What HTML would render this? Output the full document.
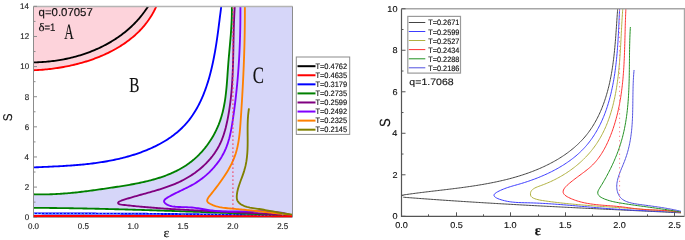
<!DOCTYPE html><html><head><meta charset="utf-8"><style>html,body{margin:0;padding:0;background:#fff;width:685px;height:240px;overflow:hidden}svg{display:block;will-change:transform}</style></head><body>
<svg width="685" height="240" viewBox="0 0 685 240" font-family="Liberation Sans, sans-serif" text-rendering="geometricPrecision" style="font-kerning:none">
<defs><clipPath id="cl"><rect x="33.50" y="6.50" width="259.00" height="210.70"/></clipPath><clipPath id="cr"><rect x="401.50" y="8.75" width="283.10" height="207.55"/></clipPath></defs>
<g clip-path="url(#cl)">
<path d="M231.92,6.57 L231.80,8.07 L231.69,9.57 L231.58,11.06 L231.47,12.56 L231.37,14.06 L231.28,15.56 L231.18,17.06 L231.09,18.56 L231.00,20.05 L230.92,21.55 L230.84,23.05 L230.76,24.55 L230.68,26.05 L230.60,27.55 L230.53,29.05 L230.46,30.55 L230.39,32.05 L230.32,33.55 L230.25,35.04 L230.18,36.55 L230.11,38.05 L230.04,39.55 L229.97,41.05 L229.90,42.55 L229.83,44.05 L229.76,45.55 L229.69,47.05 L229.62,48.56 L229.54,50.06 L229.46,51.56 L229.39,53.07 L229.31,54.57 L229.22,56.08 L229.14,57.58 L229.05,59.09 L228.96,60.59 L228.86,62.10 L228.76,63.61 L228.66,65.11 L228.56,66.62 L228.44,68.13 L228.33,69.64 L228.21,71.15 L228.09,72.66 L227.96,74.17 L227.82,75.69 L227.68,77.20 L227.53,78.71 L227.38,80.23 L227.22,81.74 L227.06,83.26 L226.89,84.78 L226.71,86.29 L226.52,87.81 L226.33,89.33 L226.13,90.85 L225.92,92.37 L225.70,93.89 L225.47,95.41 L225.24,96.93 L224.99,98.45 L224.74,99.97 L224.47,101.48 L224.19,102.99 L223.90,104.50 L223.59,106.01 L223.27,107.51 L222.94,109.00 L222.60,110.49 L222.24,111.98 L221.86,113.46 L221.47,114.93 L221.06,116.39 L220.64,117.85 L220.20,119.30 L219.74,120.74 L219.26,122.18 L218.76,123.60 L218.25,125.01 L217.71,126.41 L217.16,127.80 L216.58,129.19 L215.98,130.55 L215.36,131.91 L214.71,133.25 L214.05,134.58 L213.36,135.90 L212.64,137.20 L211.90,138.49 L211.14,139.76 L210.36,141.02 L209.55,142.26 L208.72,143.48 L207.87,144.69 L206.99,145.88 L206.09,147.05 L205.17,148.21 L204.22,149.34 L203.25,150.46 L202.26,151.56 L201.25,152.63 L200.22,153.69 L199.16,154.73 L198.09,155.74 L196.99,156.74 L195.87,157.71 L194.74,158.67 L193.58,159.60 L192.41,160.52 L191.22,161.41 L190.01,162.29 L188.79,163.15 L187.55,163.98 L186.30,164.80 L185.03,165.60 L183.75,166.38 L182.45,167.15 L181.15,167.90 L179.83,168.62 L178.50,169.34 L177.17,170.03 L175.82,170.71 L174.46,171.37 L173.10,172.01 L171.73,172.64 L170.35,173.26 L168.96,173.85 L167.57,174.43 L166.17,175.00 L164.77,175.55 L163.36,176.09 L161.94,176.61 L160.52,177.12 L159.09,177.61 L157.66,178.10 L156.22,178.56 L154.78,179.02 L153.33,179.46 L151.87,179.90 L150.42,180.31 L148.95,180.72 L147.49,181.12 L146.02,181.50 L144.54,181.88 L143.07,182.24 L141.59,182.60 L140.10,182.94 L138.61,183.28 L137.12,183.60 L135.63,183.92 L134.14,184.23 L132.64,184.52 L131.14,184.82 L129.64,185.10 L128.13,185.37 L126.63,185.64 L125.12,185.90 L123.62,186.16 L122.11,186.41 L120.60,186.65 L119.09,186.88 L117.58,187.12 L116.07,187.34 L114.56,187.56 L113.04,187.78 L111.53,187.99 L110.02,188.20 L108.51,188.40 L107.00,188.60 L105.50,188.80 L103.99,188.99 L102.48,189.18 L100.98,189.37 L99.48,189.56 L97.98,189.74 L96.48,189.93 L94.98,190.11 L93.49,190.29 L91.99,190.47 L90.50,190.65 L89.01,190.82 L87.52,190.99 L86.03,191.16 L84.55,191.33 L83.06,191.50 L81.57,191.66 L80.09,191.82 L78.60,191.97 L77.12,192.12 L75.63,192.27 L74.15,192.42 L72.66,192.56 L71.18,192.69 L69.69,192.83 L68.21,192.96 L66.72,193.08 L65.23,193.20 L63.74,193.32 L62.25,193.43 L60.76,193.53 L59.26,193.63 L57.77,193.73 L56.27,193.82 L54.77,193.90 L53.27,193.98 L51.77,194.05 L50.26,194.12 L48.75,194.18 L47.24,194.24 L45.73,194.28 L44.21,194.32 L42.69,194.36 L41.17,194.39 L39.64,194.41 L38.11,194.42 L36.58,194.43 L35.04,194.42 L33.50,194.42 L33.50,207.70 L73.00,208.50 L113.00,209.20 L173.00,210.60 L233.00,213.50 L292.00,215.20 L292.50,215.20 L292.50,4.50 Z" fill="#d6d6f9"/>
<path d="M33.50,4.50 L156.16,6.67 L155.51,8.10 L154.83,9.50 L154.12,10.89 L153.40,12.26 L152.64,13.61 L151.87,14.93 L151.07,16.24 L150.25,17.53 L149.41,18.80 L148.55,20.06 L147.67,21.29 L146.77,22.51 L145.84,23.70 L144.90,24.88 L143.93,26.04 L142.95,27.18 L141.95,28.31 L140.93,29.42 L139.89,30.50 L138.84,31.58 L137.76,32.63 L136.67,33.67 L135.57,34.69 L134.44,35.69 L133.30,36.68 L132.15,37.64 L130.98,38.60 L129.80,39.53 L128.60,40.45 L127.38,41.36 L126.16,42.25 L124.92,43.12 L123.67,43.97 L122.40,44.81 L121.12,45.64 L119.83,46.45 L118.53,47.24 L117.22,48.02 L115.90,48.79 L114.56,49.53 L113.22,50.27 L111.86,50.99 L110.50,51.69 L109.12,52.38 L107.74,53.05 L106.35,53.71 L104.95,54.36 L103.54,54.99 L102.12,55.61 L100.70,56.21 L99.27,56.80 L97.83,57.38 L96.38,57.94 L94.93,58.48 L93.47,59.02 L92.01,59.54 L90.54,60.05 L89.07,60.54 L87.59,61.02 L86.11,61.49 L84.62,61.94 L83.13,62.38 L81.63,62.81 L80.13,63.22 L78.63,63.63 L77.13,64.02 L75.62,64.39 L74.11,64.76 L72.60,65.11 L71.09,65.45 L69.58,65.78 L68.07,66.10 L66.55,66.40 L65.04,66.69 L63.53,66.97 L62.01,67.24 L60.50,67.50 L58.99,67.74 L57.48,67.98 L55.97,68.20 L54.47,68.41 L52.96,68.61 L51.46,68.80 L49.96,68.98 L48.47,69.15 L46.98,69.31 L45.49,69.45 L44.01,69.59 L42.53,69.72 L41.05,69.83 L39.59,69.94 L38.12,70.03 L36.66,70.12 L35.21,70.19 L33.77,70.26 Z" fill="#fdd3db"/>
<path d="M33.50,216.10 L35.01,216.10 L36.52,216.10 L38.04,216.10 L39.55,216.10 L41.06,216.10 L42.57,216.10 L44.08,216.10 L45.59,216.10 L47.11,216.10 L48.62,216.10 L50.13,216.10 L51.64,216.10 L53.15,216.10 L54.66,216.10 L56.18,216.10 L57.69,216.10 L59.20,216.10 L60.71,216.10 L62.22,216.10 L63.73,216.10 L65.25,216.10 L66.76,216.11 L68.27,216.11 L69.78,216.11 L71.29,216.11 L72.80,216.11 L74.32,216.11 L75.83,216.11 L77.34,216.11 L78.85,216.11 L80.36,216.11 L81.87,216.11 L83.39,216.12 L84.90,216.12 L86.41,216.12 L87.92,216.12 L89.43,216.12 L90.94,216.12 L92.46,216.12 L93.97,216.12 L95.48,216.13 L96.99,216.13 L98.50,216.13 L100.01,216.13 L101.53,216.13 L103.04,216.13 L104.55,216.13 L106.06,216.14 L107.57,216.14 L109.08,216.14 L110.60,216.14 L112.11,216.14 L113.62,216.14 L115.13,216.15 L116.64,216.15 L118.16,216.15 L119.67,216.15 L121.18,216.15 L122.69,216.16 L124.20,216.16 L125.71,216.16 L127.23,216.16 L128.74,216.17 L130.25,216.17 L131.76,216.17 L133.27,216.17 L134.78,216.17 L136.30,216.18 L137.81,216.18 L139.32,216.18 L140.83,216.18 L142.34,216.19 L143.85,216.19 L145.37,216.19 L146.88,216.19 L148.39,216.20 L149.90,216.20 L151.41,216.20 L152.92,216.21 L154.44,216.21 L155.95,216.21 L157.46,216.21 L158.97,216.22 L160.48,216.22 L161.99,216.22 L163.51,216.23 L165.02,216.23 L166.53,216.23 L168.04,216.23 L169.55,216.24 L171.06,216.24 L172.58,216.24 L174.09,216.25 L175.60,216.25 L177.11,216.25 L178.62,216.26 L180.13,216.26 L181.65,216.26 L183.16,216.27 L184.67,216.27 L186.18,216.27 L187.69,216.28 L189.20,216.28 L190.72,216.29 L192.23,216.29 L193.74,216.29 L195.25,216.30 L196.76,216.30 L198.28,216.30 L199.79,216.31 L201.30,216.31 L202.81,216.32 L204.32,216.32 L205.83,216.32 L207.35,216.33 L208.86,216.33 L210.37,216.34 L211.88,216.34 L213.39,216.34 L214.90,216.35 L216.42,216.35 L217.93,216.36 L219.44,216.36 L220.95,216.36 L222.46,216.37 L223.97,216.37 L225.49,216.38 L227.00,216.38 L228.51,216.39 L230.02,216.39 L231.53,216.40 L233.04,216.40 L234.56,216.40 L236.07,216.41 L237.58,216.41 L239.09,216.42 L240.60,216.42 L242.11,216.43 L243.63,216.43 L245.14,216.44 L246.65,216.44 L248.16,216.45 L249.67,216.45 L251.18,216.46 L252.70,216.46 L254.21,216.47 L255.72,216.47 L257.23,216.48 L258.74,216.48 L260.25,216.49 L261.77,216.49 L263.28,216.50 L264.79,216.50 L266.30,216.51 L267.81,216.51 L269.32,216.52 L270.84,216.52 L272.35,216.53 L273.86,216.53 L275.37,216.54 L276.88,216.54 L278.39,216.55 L279.91,216.56 L281.42,216.56 L282.93,216.57 L284.44,216.57 L285.95,216.58 L287.46,216.58 L288.98,216.59 L290.49,216.59 L292.00,216.60" fill="none" stroke="#ff0000" stroke-width="2.20" stroke-linejoin="round" />
<path d="M33.50,213.40 L35.01,213.41 L36.52,213.41 L38.04,213.42 L39.55,213.42 L41.06,213.42 L42.57,213.43 L44.08,213.43 L45.59,213.44 L47.11,213.44 L48.62,213.44 L50.13,213.45 L51.64,213.45 L53.15,213.45 L54.67,213.46 L56.18,213.46 L57.69,213.47 L59.20,213.47 L60.71,213.47 L62.22,213.48 L63.74,213.48 L65.25,213.49 L66.76,213.49 L68.27,213.49 L69.78,213.50 L71.30,213.50 L72.81,213.51 L74.32,213.51 L75.83,213.51 L77.34,213.52 L78.85,213.52 L80.37,213.53 L81.88,213.53 L83.39,213.53 L84.90,213.54 L86.41,213.54 L87.93,213.55 L89.44,213.55 L90.95,213.56 L92.46,213.56 L93.97,213.57 L95.49,213.57 L97.00,213.58 L98.51,213.58 L100.02,213.59 L101.53,213.59 L103.04,213.60 L104.56,213.60 L106.07,213.61 L107.58,213.62 L109.09,213.62 L110.60,213.63 L112.12,213.63 L113.63,213.64 L115.14,213.65 L116.65,213.65 L118.16,213.66 L119.67,213.67 L121.19,213.68 L122.70,213.68 L124.21,213.69 L125.72,213.70 L127.23,213.71 L128.75,213.71 L130.26,213.72 L131.77,213.73 L133.28,213.74 L134.79,213.75 L136.31,213.75 L137.82,213.76 L139.33,213.77 L140.84,213.78 L142.35,213.79 L143.86,213.80 L145.38,213.81 L146.89,213.82 L148.40,213.83 L149.91,213.84 L151.42,213.85 L152.94,213.86 L154.45,213.88 L155.96,213.89 L157.47,213.90 L158.98,213.91 L160.49,213.92 L162.01,213.94 L163.52,213.95 L165.03,213.96 L166.54,213.97 L168.05,213.99 L169.56,214.00 L171.08,214.02 L172.59,214.03 L174.10,214.04 L175.61,214.06 L177.12,214.07 L178.64,214.09 L180.15,214.11 L181.66,214.12 L183.17,214.14 L184.68,214.15 L186.19,214.17 L187.71,214.19 L189.22,214.21 L190.73,214.22 L192.24,214.24 L193.75,214.26 L195.26,214.28 L196.78,214.30 L198.29,214.32 L199.80,214.34 L201.31,214.36 L202.82,214.38 L204.33,214.40 L205.85,214.42 L207.36,214.44 L208.87,214.46 L210.38,214.48 L211.89,214.51 L213.40,214.53 L214.92,214.55 L216.43,214.58 L217.94,214.60 L219.45,214.63 L220.96,214.65 L222.47,214.68 L223.99,214.70 L225.50,214.73 L227.01,214.75 L228.52,214.78 L230.03,214.81 L231.54,214.83 L233.06,214.86 L234.57,214.89 L236.08,214.92 L237.59,214.95 L239.10,214.98 L240.61,215.01 L242.12,215.04 L243.64,215.07 L245.15,215.10 L246.66,215.13 L248.17,215.16 L249.68,215.20 L251.19,215.23 L252.70,215.26 L254.22,215.30 L255.73,215.33 L257.24,215.37 L258.75,215.40 L260.26,215.44 L261.77,215.47 L263.28,215.51 L264.80,215.55 L266.31,215.59 L267.82,215.63 L269.33,215.66 L270.84,215.70 L272.35,215.74 L273.86,215.78 L275.38,215.82 L276.89,215.87 L278.40,215.91 L279.91,215.95 L281.42,215.99 L282.93,216.04 L284.44,216.08 L285.95,216.12 L287.47,216.17 L288.98,216.21 L290.49,216.26 L292.00,216.31" fill="none" stroke="#0000ff" stroke-width="1.90" stroke-linejoin="round" />
<path d="M33.50,213.40 L35.01,213.41 L36.52,213.41 L38.04,213.42 L39.55,213.42 L41.06,213.42 L42.57,213.43 L44.08,213.43 L45.59,213.44 L47.11,213.44 L48.62,213.44 L50.13,213.45 L51.64,213.45 L53.15,213.45 L54.67,213.46 L56.18,213.46 L57.69,213.47 L59.20,213.47 L60.71,213.47 L62.22,213.48 L63.74,213.48 L65.25,213.49 L66.76,213.49 L68.27,213.49 L69.78,213.50 L71.30,213.50 L72.81,213.51 L74.32,213.51 L75.83,213.51 L77.34,213.52 L78.85,213.52 L80.37,213.53 L81.88,213.53 L83.39,213.53 L84.90,213.54 L86.41,213.54 L87.93,213.55 L89.44,213.55 L90.95,213.56 L92.46,213.56 L93.97,213.57 L95.49,213.57 L97.00,213.58 L98.51,213.58 L100.02,213.59 L101.53,213.59 L103.04,213.60 L104.56,213.60 L106.07,213.61 L107.58,213.62 L109.09,213.62 L110.60,213.63 L112.12,213.63 L113.63,213.64 L115.14,213.65 L116.65,213.65 L118.16,213.66 L119.67,213.67 L121.19,213.68 L122.70,213.68 L124.21,213.69 L125.72,213.70 L127.23,213.71 L128.75,213.71 L130.26,213.72 L131.77,213.73 L133.28,213.74 L134.79,213.75 L136.31,213.75 L137.82,213.76 L139.33,213.77 L140.84,213.78 L142.35,213.79 L143.86,213.80 L145.38,213.81 L146.89,213.82 L148.40,213.83 L149.91,213.84 L151.42,213.85 L152.94,213.86 L154.45,213.88 L155.96,213.89 L157.47,213.90 L158.98,213.91 L160.49,213.92 L162.01,213.94 L163.52,213.95 L165.03,213.96 L166.54,213.97 L168.05,213.99 L169.56,214.00 L171.08,214.02 L172.59,214.03 L174.10,214.04 L175.61,214.06 L177.12,214.07 L178.64,214.09 L180.15,214.11 L181.66,214.12 L183.17,214.14 L184.68,214.15 L186.19,214.17 L187.71,214.19 L189.22,214.21 L190.73,214.22 L192.24,214.24 L193.75,214.26 L195.26,214.28 L196.78,214.30 L198.29,214.32 L199.80,214.34 L201.31,214.36 L202.82,214.38 L204.33,214.40 L205.85,214.42 L207.36,214.44 L208.87,214.46 L210.38,214.48 L211.89,214.51 L213.40,214.53 L214.92,214.55 L216.43,214.58 L217.94,214.60 L219.45,214.63 L220.96,214.65 L222.47,214.68 L223.99,214.70 L225.50,214.73 L227.01,214.75 L228.52,214.78 L230.03,214.81 L231.54,214.83 L233.06,214.86 L234.57,214.89 L236.08,214.92 L237.59,214.95 L239.10,214.98 L240.61,215.01 L242.12,215.04 L243.64,215.07 L245.15,215.10 L246.66,215.13 L248.17,215.16 L249.68,215.20 L251.19,215.23 L252.70,215.26 L254.22,215.30 L255.73,215.33 L257.24,215.37 L258.75,215.40 L260.26,215.44 L261.77,215.47 L263.28,215.51 L264.80,215.55 L266.31,215.59 L267.82,215.63 L269.33,215.66 L270.84,215.70 L272.35,215.74 L273.86,215.78 L275.38,215.82 L276.89,215.87 L278.40,215.91 L279.91,215.95 L281.42,215.99 L282.93,216.04 L284.44,216.08 L285.95,216.12 L287.47,216.17 L288.98,216.21 L290.49,216.26 L292.00,216.31" fill="none" stroke="#7fd8ff" stroke-width="0.9" stroke-dasharray="1.3,2.3"/>
<path d="M33.53,62.37 L35.03,62.34 L36.54,62.31 L38.05,62.26 L39.56,62.19 L41.07,62.12 L42.59,62.03 L44.10,61.92 L45.61,61.81 L47.13,61.67 L48.65,61.53 L50.16,61.37 L51.68,61.20 L53.19,61.01 L54.71,60.81 L56.22,60.60 L57.73,60.37 L59.25,60.13 L60.76,59.88 L62.26,59.61 L63.77,59.32 L65.28,59.03 L66.78,58.72 L68.28,58.39 L69.77,58.05 L71.27,57.70 L72.76,57.33 L74.24,56.95 L75.72,56.55 L77.20,56.14 L78.68,55.71 L80.15,55.27 L81.61,54.82 L83.07,54.35 L84.52,53.86 L85.97,53.37 L87.42,52.85 L88.85,52.33 L90.29,51.78 L91.71,51.23 L93.13,50.66 L94.54,50.07 L95.94,49.47 L97.34,48.85 L98.73,48.22 L100.11,47.57 L101.49,46.91 L102.85,46.24 L104.21,45.55 L105.56,44.84 L106.90,44.12 L108.23,43.38 L109.55,42.63 L110.86,41.86 L112.16,41.08 L113.45,40.28 L114.73,39.47 L116.00,38.64 L117.26,37.79 L118.51,36.94 L119.75,36.06 L120.98,35.17 L122.19,34.26 L123.39,33.34 L124.58,32.40 L125.76,31.45 L126.93,30.48 L128.08,29.50 L129.22,28.50 L130.34,27.48 L131.45,26.45 L132.55,25.40 L133.64,24.33 L134.71,23.25 L135.76,22.16 L136.81,21.04 L137.83,19.92 L138.84,18.77 L139.84,17.61 L140.82,16.43 L141.78,15.24 L142.73,14.03 L143.66,12.80 L144.58,11.56 L145.47,10.30 L146.36,9.02 L147.22,7.73 L148.07,6.42" fill="none" stroke="#000000" stroke-width="1.85" stroke-linejoin="round" />
<path d="M33.77,70.26 L35.21,70.19 L36.66,70.12 L38.12,70.03 L39.59,69.94 L41.05,69.83 L42.53,69.72 L44.01,69.59 L45.49,69.45 L46.98,69.31 L48.47,69.15 L49.96,68.98 L51.46,68.80 L52.96,68.61 L54.47,68.41 L55.97,68.20 L57.48,67.98 L58.99,67.74 L60.50,67.50 L62.01,67.24 L63.53,66.97 L65.04,66.69 L66.55,66.40 L68.07,66.10 L69.58,65.78 L71.09,65.45 L72.60,65.11 L74.11,64.76 L75.62,64.39 L77.13,64.02 L78.63,63.63 L80.13,63.22 L81.63,62.81 L83.13,62.38 L84.62,61.94 L86.11,61.49 L87.59,61.02 L89.07,60.54 L90.54,60.05 L92.01,59.54 L93.47,59.02 L94.93,58.48 L96.38,57.94 L97.83,57.38 L99.27,56.80 L100.70,56.21 L102.12,55.61 L103.54,54.99 L104.95,54.36 L106.35,53.71 L107.74,53.05 L109.12,52.38 L110.50,51.69 L111.86,50.99 L113.22,50.27 L114.56,49.53 L115.90,48.79 L117.22,48.02 L118.53,47.24 L119.83,46.45 L121.12,45.64 L122.40,44.81 L123.67,43.97 L124.92,43.12 L126.16,42.25 L127.38,41.36 L128.60,40.45 L129.80,39.53 L130.98,38.60 L132.15,37.64 L133.30,36.68 L134.44,35.69 L135.57,34.69 L136.67,33.67 L137.76,32.63 L138.84,31.58 L139.89,30.50 L140.93,29.42 L141.95,28.31 L142.95,27.18 L143.93,26.04 L144.90,24.88 L145.84,23.70 L146.77,22.51 L147.67,21.29 L148.55,20.06 L149.41,18.80 L150.25,17.53 L151.07,16.24 L151.87,14.93 L152.64,13.61 L153.40,12.26 L154.12,10.89 L154.83,9.50 L155.51,8.10 L156.16,6.67" fill="none" stroke="#ff0000" stroke-width="1.85" stroke-linejoin="round" />
<path d="M33.58,167.42 L35.08,167.35 L36.57,167.28 L38.07,167.21 L39.57,167.15 L41.07,167.08 L42.57,167.01 L44.07,166.94 L45.57,166.88 L47.08,166.81 L48.58,166.74 L50.08,166.67 L51.59,166.60 L53.09,166.53 L54.60,166.45 L56.10,166.37 L57.61,166.30 L59.11,166.22 L60.62,166.13 L62.13,166.05 L63.63,165.96 L65.14,165.87 L66.65,165.77 L68.15,165.67 L69.66,165.57 L71.17,165.47 L72.67,165.36 L74.18,165.24 L75.68,165.12 L77.19,165.00 L78.70,164.87 L80.20,164.74 L81.71,164.60 L83.21,164.46 L84.71,164.30 L86.22,164.15 L87.72,163.99 L89.22,163.82 L90.72,163.64 L92.23,163.46 L93.73,163.27 L95.23,163.07 L96.72,162.87 L98.22,162.66 L99.72,162.44 L101.22,162.21 L102.71,161.98 L104.21,161.73 L105.70,161.48 L107.19,161.22 L108.68,160.95 L110.17,160.67 L111.66,160.38 L113.15,160.08 L114.63,159.77 L116.12,159.45 L117.60,159.12 L119.08,158.78 L120.56,158.43 L122.04,158.07 L123.52,157.69 L125.00,157.31 L126.47,156.91 L127.94,156.51 L129.41,156.09 L130.88,155.65 L132.35,155.21 L133.81,154.75 L135.28,154.28 L136.73,153.80 L138.19,153.31 L139.64,152.80 L141.08,152.28 L142.52,151.74 L143.96,151.19 L145.38,150.63 L146.81,150.06 L148.22,149.47 L149.63,148.86 L151.03,148.24 L152.42,147.61 L153.80,146.96 L155.17,146.30 L156.54,145.63 L157.89,144.93 L159.23,144.23 L160.57,143.51 L161.89,142.77 L163.20,142.02 L164.49,141.25 L165.78,140.46 L167.05,139.66 L168.31,138.85 L169.55,138.01 L170.78,137.17 L171.99,136.30 L173.19,135.42 L174.37,134.52 L175.54,133.60 L176.69,132.67 L177.83,131.72 L178.94,130.75 L180.04,129.77 L181.12,128.76 L182.18,127.74 L183.22,126.70 L184.24,125.65 L185.24,124.57 L186.22,123.48 L187.18,122.36 L188.12,121.23 L189.04,120.09 L189.94,118.92 L190.82,117.74 L191.68,116.54 L192.53,115.33 L193.35,114.10 L194.15,112.86 L194.94,111.60 L195.71,110.33 L196.46,109.04 L197.19,107.75 L197.91,106.43 L198.61,105.11 L199.29,103.77 L199.95,102.43 L200.60,101.07 L201.24,99.70 L201.85,98.32 L202.46,96.93 L203.05,95.54 L203.62,94.13 L204.18,92.71 L204.72,91.29 L205.25,89.86 L205.77,88.42 L206.27,86.98 L206.76,85.53 L207.24,84.07 L207.71,82.61 L208.16,81.14 L208.60,79.67 L209.03,78.19 L209.45,76.71 L209.85,75.23 L210.25,73.74 L210.63,72.25 L211.01,70.76 L211.37,69.27 L211.73,67.77 L212.07,66.28 L212.41,64.78 L212.73,63.29 L213.05,61.79 L213.36,60.29 L213.66,58.79 L213.96,57.29 L214.24,55.79 L214.52,54.29 L214.79,52.79 L215.06,51.29 L215.32,49.78 L215.57,48.28 L215.81,46.78 L216.05,45.28 L216.29,43.78 L216.52,42.28 L216.74,40.78 L216.96,39.28 L217.18,37.78 L217.39,36.28 L217.60,34.78 L217.81,33.29 L218.01,31.79 L218.21,30.30 L218.41,28.81 L218.60,27.32 L218.79,25.83 L218.98,24.34 L219.17,22.86 L219.36,21.37 L219.55,19.89 L219.73,18.41 L219.92,16.94 L220.11,15.46 L220.29,13.99 L220.48,12.52 L220.67,11.05 L220.86,9.59 L221.05,8.13 L221.24,6.67" fill="none" stroke="#0000ff" stroke-width="1.85" stroke-linejoin="round" />
<path d="M33.35,194.25 L34.94,194.30 L36.52,194.34 L38.09,194.37 L39.65,194.38 L41.21,194.39 L42.77,194.39 L44.31,194.39 L45.85,194.37 L47.39,194.34 L48.92,194.31 L50.44,194.27 L51.96,194.22 L53.48,194.16 L54.99,194.09 L56.49,194.02 L57.99,193.94 L59.49,193.85 L60.99,193.75 L62.48,193.65 L63.97,193.54 L65.45,193.43 L66.93,193.31 L68.41,193.18 L69.89,193.05 L71.36,192.91 L72.84,192.76 L74.31,192.61 L75.78,192.46 L77.25,192.30 L78.72,192.14 L80.18,191.97 L81.65,191.79 L83.12,191.62 L84.58,191.43 L86.05,191.25 L87.52,191.06 L88.99,190.87 L90.46,190.67 L91.93,190.47 L93.40,190.27 L94.87,190.06 L96.34,189.86 L97.82,189.65 L99.30,189.44 L100.78,189.22 L102.27,189.01 L103.75,188.79 L105.24,188.57 L106.74,188.35 L108.23,188.13 L109.73,187.91 L111.24,187.68 L112.75,187.46 L114.26,187.23 L115.77,187.00 L117.29,186.77 L118.81,186.54 L120.33,186.31 L121.85,186.07 L123.38,185.82 L124.90,185.57 L126.43,185.32 L127.95,185.06 L129.48,184.80 L131.00,184.53 L132.52,184.25 L134.05,183.97 L135.57,183.68 L137.09,183.38 L138.60,183.08 L140.12,182.76 L141.63,182.44 L143.14,182.11 L144.64,181.77 L146.14,181.42 L147.64,181.06 L149.13,180.69 L150.61,180.30 L152.10,179.91 L153.57,179.50 L155.04,179.08 L156.50,178.65 L157.96,178.21 L159.41,177.75 L160.85,177.28 L162.28,176.79 L163.71,176.29 L165.12,175.78 L166.53,175.24 L167.93,174.70 L169.32,174.13 L170.70,173.55 L172.07,172.96 L173.43,172.34 L174.77,171.71 L176.11,171.06 L177.44,170.39 L178.75,169.70 L180.05,169.00 L181.34,168.27 L182.61,167.52 L183.87,166.75 L185.12,165.96 L186.36,165.15 L187.58,164.32 L188.78,163.47 L189.97,162.59 L191.14,161.69 L192.30,160.77 L193.45,159.83 L194.57,158.86 L195.68,157.87 L196.78,156.87 L197.85,155.84 L198.91,154.79 L199.96,153.72 L200.98,152.64 L201.99,151.53 L202.98,150.41 L203.95,149.27 L204.90,148.12 L205.83,146.94 L206.75,145.75 L207.64,144.54 L208.52,143.32 L209.37,142.09 L210.21,140.83 L211.02,139.57 L211.82,138.29 L212.59,137.00 L213.34,135.69 L214.07,134.37 L214.78,133.04 L215.47,131.70 L216.14,130.34 L216.78,128.98 L217.40,127.61 L218.00,126.22 L218.58,124.83 L219.13,123.42 L219.66,122.01 L220.16,120.59 L220.64,119.16 L221.10,117.73 L221.54,116.29 L221.95,114.84 L222.34,113.38 L222.71,111.92 L223.06,110.45 L223.39,108.98 L223.71,107.50 L224.00,106.01 L224.28,104.52 L224.55,103.03 L224.80,101.53 L225.03,100.03 L225.25,98.52 L225.46,97.01 L225.65,95.50 L225.84,93.99 L226.01,92.47 L226.18,90.95 L226.33,89.43 L226.48,87.91 L226.62,86.38 L226.75,84.86 L226.87,83.33 L226.99,81.80 L227.11,80.28 L227.22,78.75 L227.33,77.22 L227.44,75.70 L227.54,74.17 L227.65,72.65 L227.75,71.13 L227.86,69.61 L227.96,68.09 L228.07,66.58 L228.19,65.06 L228.30,63.55 L228.42,62.05 L228.55,60.54 L228.67,59.04 L228.80,57.54 L228.93,56.05 L229.06,54.55 L229.20,53.06 L229.33,51.57 L229.46,50.08 L229.60,48.59 L229.73,47.10 L229.87,45.61 L230.00,44.13 L230.13,42.64 L230.26,41.15 L230.39,39.67 L230.52,38.18 L230.64,36.69 L230.76,35.20 L230.87,33.71 L230.98,32.22 L231.09,30.73 L231.19,29.24 L231.29,27.74 L231.38,26.25 L231.46,24.75 L231.54,23.25 L231.61,21.74 L231.68,20.24 L231.73,18.73 L231.78,17.22 L231.82,15.70 L231.85,14.18 L231.87,12.66 L231.89,11.13 L231.89,9.60 L231.88,8.06 L231.86,6.52" fill="none" stroke="#008000" stroke-width="1.85" stroke-linejoin="round" />
<path d="M33.50,207.82 L35.01,207.83 L36.52,207.84 L38.03,207.85 L39.55,207.86 L41.06,207.87 L42.57,207.88 L44.09,207.90 L45.60,207.91 L47.11,207.92 L48.62,207.94 L50.14,207.96 L51.65,207.97 L53.16,207.99 L54.67,208.01 L56.19,208.03 L57.70,208.05 L59.21,208.07 L60.72,208.09 L62.24,208.11 L63.75,208.13 L65.26,208.15 L66.77,208.18 L68.29,208.20 L69.80,208.23 L71.31,208.25 L72.82,208.28 L74.33,208.30 L75.85,208.33 L77.36,208.36 L78.87,208.38 L80.38,208.41 L81.90,208.44 L83.41,208.47 L84.92,208.50 L86.43,208.53 L87.94,208.56 L89.46,208.59 L90.97,208.63 L92.48,208.66 L93.99,208.69 L95.50,208.73 L97.02,208.76 L98.53,208.79 L100.04,208.83 L101.55,208.87 L103.06,208.90 L104.58,208.94 L106.09,208.97 L107.60,209.01 L109.11,209.05 L110.62,209.09 L112.14,209.13 L113.65,209.17 L115.16,209.21 L116.67,209.25 L118.18,209.29 L119.69,209.33 L121.21,209.37 L122.72,209.41 L124.23,209.45 L125.74,209.50 L127.25,209.54 L128.76,209.58 L130.28,209.63 L131.79,209.67 L133.30,209.71 L134.81,209.76 L136.32,209.80 L137.83,209.85 L139.35,209.90 L140.86,209.94 L142.37,209.99 L143.88,210.04 L145.39,210.08 L146.90,210.13 L148.42,210.18 L149.93,210.23 L151.44,210.27 L152.95,210.32 L154.46,210.37 L155.97,210.42 L157.48,210.47 L159.00,210.52 L160.51,210.57 L162.02,210.62 L163.53,210.67 L165.04,210.72 L166.55,210.77 L168.06,210.82 L169.58,210.88 L171.09,210.93 L172.60,210.98 L174.11,211.03 L175.62,211.08 L177.13,211.14 L178.64,211.19 L180.16,211.24 L181.67,211.30 L183.18,211.35 L184.69,211.40 L186.20,211.46 L187.71,211.51 L189.22,211.56 L190.73,211.62 L192.25,211.67 L193.76,211.73 L195.27,211.78 L196.78,211.84 L198.29,211.89 L199.80,211.94 L201.31,212.00 L202.83,212.05 L204.34,212.11 L205.85,212.17 L207.36,212.22 L208.87,212.28 L210.38,212.33 L211.89,212.39 L213.40,212.44 L214.92,212.50 L216.43,212.55 L217.94,212.61 L219.45,212.67 L220.96,212.72 L222.47,212.78 L223.98,212.83 L225.50,212.89 L227.01,212.95 L228.52,213.00 L230.03,213.06 L231.54,213.11 L233.05,213.17 L234.56,213.23 L236.07,213.28 L237.59,213.34 L239.10,213.39 L240.61,213.45 L242.12,213.51 L243.63,213.56 L245.14,213.62 L246.65,213.67 L248.17,213.73 L249.68,213.79 L251.19,213.84 L252.70,213.90 L254.21,213.95 L255.72,214.01 L257.23,214.06 L258.74,214.12 L260.26,214.17 L261.77,214.23 L263.28,214.28 L264.79,214.34 L266.30,214.39 L267.81,214.45 L269.32,214.50 L270.84,214.55 L272.35,214.61 L273.86,214.66 L275.37,214.72 L276.88,214.77 L278.39,214.82 L279.90,214.87 L281.42,214.93 L282.93,214.98 L284.44,215.03 L285.95,215.09 L287.46,215.14 L288.97,215.19 L290.49,215.24 L292.00,215.29" fill="none" stroke="#008000" stroke-width="1.85" stroke-linejoin="round" />
<path d="M234.76,6.51 L234.67,8.01 L234.58,9.51 L234.49,11.01 L234.41,12.51 L234.34,14.01 L234.27,15.52 L234.20,17.02 L234.14,18.52 L234.08,20.03 L234.02,21.53 L233.97,23.04 L233.92,24.54 L233.88,26.05 L233.83,27.55 L233.79,29.06 L233.75,30.57 L233.71,32.07 L233.68,33.58 L233.65,35.09 L233.61,36.59 L233.58,38.10 L233.55,39.61 L233.52,41.12 L233.49,42.62 L233.47,44.13 L233.44,45.64 L233.41,47.15 L233.38,48.65 L233.35,50.16 L233.32,51.67 L233.29,53.18 L233.25,54.69 L233.22,56.19 L233.19,57.70 L233.15,59.21 L233.11,60.71 L233.07,62.22 L233.02,63.73 L232.97,65.23 L232.92,66.74 L232.87,68.25 L232.81,69.75 L232.75,71.26 L232.69,72.76 L232.62,74.27 L232.55,75.77 L232.47,77.27 L232.39,78.78 L232.30,80.28 L232.21,81.78 L232.12,83.28 L232.01,84.78 L231.91,86.28 L231.79,87.78 L231.67,89.28 L231.54,90.78 L231.41,92.28 L231.27,93.78 L231.12,95.27 L230.97,96.77 L230.81,98.26 L230.64,99.76 L230.46,101.25 L230.28,102.74 L230.08,104.23 L229.88,105.73 L229.67,107.22 L229.45,108.70 L229.22,110.19 L228.98,111.68 L228.73,113.17 L228.47,114.65 L228.21,116.13 L227.93,117.62 L227.64,119.10 L227.34,120.58 L227.03,122.06 L226.70,123.54 L226.37,125.01 L226.01,126.48 L225.65,127.95 L225.26,129.40 L224.86,130.86 L224.43,132.30 L223.99,133.74 L223.52,135.17 L223.03,136.59 L222.52,138.00 L221.98,139.40 L221.41,140.78 L220.82,142.16 L220.20,143.52 L219.54,144.86 L218.86,146.19 L218.14,147.50 L217.40,148.80 L216.62,150.08 L215.82,151.35 L214.99,152.60 L214.13,153.83 L213.24,155.04 L212.33,156.24 L211.39,157.42 L210.43,158.58 L209.44,159.73 L208.43,160.85 L207.40,161.96 L206.35,163.05 L205.28,164.13 L204.19,165.18 L203.07,166.21 L201.94,167.23 L200.80,168.22 L199.63,169.20 L198.45,170.15 L197.25,171.09 L196.04,172.00 L194.82,172.90 L193.58,173.77 L192.33,174.62 L191.06,175.46 L189.79,176.27 L188.51,177.05 L187.21,177.82 L185.91,178.57 L184.60,179.29 L183.28,179.99 L181.96,180.67 L180.62,181.33 L179.28,181.97 L177.94,182.59 L176.58,183.19 L175.22,183.78 L173.86,184.35 L172.48,184.90 L171.10,185.44 L169.72,185.96 L168.32,186.47 L166.92,186.97 L165.52,187.46 L164.11,187.94 L162.69,188.40 L161.27,188.86 L159.84,189.31 L158.41,189.75 L156.97,190.19 L155.52,190.62 L154.07,191.04 L152.62,191.46 L151.16,191.88 L149.70,192.29 L148.23,192.70 L146.75,193.12 L145.27,193.53 L143.79,193.94 L142.30,194.35 L140.81,194.76 L139.32,195.18 L137.82,195.60 L136.31,196.03 L134.81,196.46 L133.30,196.90 L131.78,197.35 L130.26,197.80 L128.74,198.26 L127.22,198.73 L125.69,199.21 L124.16,199.70 L122.64,200.21 L121.20,200.73 L119.92,201.26 L118.91,201.81 L118.25,202.37 L118.04,202.96 L118.30,203.54 L119.00,204.03 L120.06,204.39 L121.39,204.65 L122.88,204.85 L124.44,205.03 L126.00,205.20 L127.55,205.37 L129.11,205.53 L130.66,205.69 L132.21,205.85 L133.76,206.00 L135.30,206.16 L136.85,206.31 L138.39,206.45 L139.93,206.59 L141.47,206.74 L143.00,206.87 L144.54,207.01 L146.07,207.14 L147.60,207.27 L149.13,207.40 L150.66,207.53 L152.18,207.65 L153.71,207.77 L155.23,207.89 L156.75,208.00 L158.27,208.12 L159.79,208.23 L161.31,208.34 L162.82,208.45 L164.34,208.55 L165.85,208.66 L167.36,208.76 L168.87,208.86 L170.38,208.96 L171.89,209.05 L173.40,209.15 L174.90,209.24 L176.41,209.33 L177.91,209.42 L179.41,209.51 L180.92,209.60 L182.42,209.68 L183.92,209.77 L185.42,209.85 L186.91,209.93 L188.41,210.01 L189.91,210.09 L191.41,210.17 L192.90,210.25 L194.40,210.32 L195.89,210.40 L197.39,210.47 L198.88,210.55 L200.37,210.62 L201.86,210.69 L203.36,210.76 L204.85,210.83 L206.34,210.90 L207.83,210.97 L209.32,211.04 L210.81,211.11 L212.30,211.18 L213.79,211.25 L215.29,211.31 L216.78,211.38 L218.27,211.45 L219.76,211.51 L221.25,211.58 L222.74,211.65 L224.23,211.71 L225.72,211.78 L227.21,211.85 L228.70,211.91 L230.19,211.98 L231.68,212.05 L233.18,212.11 L234.67,212.18 L236.16,212.25 L237.66,212.32 L239.15,212.39 L240.64,212.46 L242.14,212.53 L243.63,212.60 L245.13,212.67 L246.63,212.74 L248.13,212.81 L249.62,212.89 L251.12,212.96 L252.62,213.04 L254.12,213.11 L255.63,213.19 L257.13,213.27 L258.63,213.35 L260.14,213.43 L261.64,213.51 L263.15,213.59 L264.66,213.68 L266.17,213.76 L267.68,213.85 L269.19,213.94 L270.70,214.03 L272.21,214.12 L273.73,214.21 L275.25,214.31 L276.76,214.40 L278.28,214.50 L279.80,214.60 L281.33,214.70 L282.85,214.81 L284.38,214.91 L285.90,215.02 L287.43,215.13 L288.96,215.24 L290.50,215.36 L292.03,215.47" fill="none" stroke="#800080" stroke-width="1.85" stroke-linejoin="round" />
<path d="M240.40,6.48 L240.41,7.99 L240.41,9.51 L240.41,11.02 L240.41,12.53 L240.41,14.04 L240.40,15.55 L240.39,17.06 L240.38,18.57 L240.37,20.08 L240.35,21.59 L240.34,23.10 L240.32,24.61 L240.29,26.12 L240.27,27.63 L240.24,29.13 L240.20,30.64 L240.17,32.15 L240.13,33.66 L240.09,35.16 L240.05,36.67 L240.00,38.17 L239.96,39.68 L239.91,41.18 L239.85,42.69 L239.79,44.19 L239.74,45.70 L239.67,47.20 L239.61,48.70 L239.54,50.21 L239.47,51.71 L239.39,53.21 L239.32,54.71 L239.24,56.22 L239.15,57.72 L239.07,59.22 L238.98,60.72 L238.88,62.22 L238.79,63.72 L238.69,65.22 L238.59,66.72 L238.48,68.22 L238.37,69.72 L238.26,71.22 L238.15,72.72 L238.03,74.22 L237.91,75.72 L237.79,77.22 L237.66,78.72 L237.53,80.22 L237.39,81.72 L237.26,83.22 L237.12,84.72 L236.97,86.21 L236.82,87.71 L236.67,89.21 L236.52,90.71 L236.36,92.21 L236.20,93.70 L236.04,95.20 L235.87,96.70 L235.70,98.20 L235.52,99.69 L235.34,101.19 L235.16,102.69 L234.97,104.19 L234.78,105.68 L234.59,107.18 L234.39,108.68 L234.19,110.17 L233.99,111.67 L233.78,113.17 L233.57,114.66 L233.36,116.16 L233.14,117.66 L232.91,119.16 L232.69,120.65 L232.46,122.15 L232.22,123.64 L231.98,125.14 L231.72,126.63 L231.46,128.12 L231.19,129.61 L230.90,131.09 L230.60,132.57 L230.28,134.04 L229.95,135.50 L229.59,136.96 L229.22,138.42 L228.82,139.86 L228.40,141.30 L227.96,142.72 L227.49,144.14 L226.99,145.55 L226.47,146.94 L225.91,148.33 L225.32,149.70 L224.70,151.06 L224.05,152.41 L223.36,153.74 L222.64,155.06 L221.90,156.36 L221.12,157.65 L220.31,158.92 L219.48,160.18 L218.62,161.42 L217.73,162.65 L216.82,163.85 L215.88,165.04 L214.92,166.21 L213.94,167.37 L212.93,168.50 L211.90,169.61 L210.85,170.71 L209.78,171.78 L208.69,172.84 L207.58,173.87 L206.46,174.88 L205.31,175.87 L204.15,176.84 L202.98,177.78 L201.79,178.70 L200.58,179.60 L199.36,180.47 L198.13,181.32 L196.89,182.14 L195.64,182.94 L194.38,183.71 L193.10,184.45 L191.82,185.17 L190.53,185.87 L189.23,186.55 L187.92,187.22 L186.60,187.88 L185.27,188.53 L183.92,189.18 L182.57,189.82 L181.21,190.47 L179.83,191.13 L178.44,191.79 L177.05,192.48 L175.64,193.17 L174.21,193.89 L172.78,194.63 L171.33,195.40 L169.87,196.20 L168.39,197.04 L166.96,197.91 L165.69,198.80 L164.69,199.72 L164.10,200.65 L164.03,201.58 L164.49,202.50 L165.23,203.33 L166.11,204.06 L167.12,204.68 L168.25,205.20 L169.48,205.64 L170.81,206.01 L172.22,206.30 L173.71,206.54 L175.25,206.72 L176.86,206.86 L178.50,206.96 L180.18,207.04 L181.88,207.10 L183.58,207.14 L185.29,207.19 L186.99,207.24 L188.66,207.31 L190.30,207.40 L191.90,207.53 L193.46,207.68 L194.99,207.85 L196.49,208.05 L197.95,208.27 L199.40,208.50 L200.83,208.74 L202.24,208.98 L203.65,209.23 L205.04,209.47 L206.44,209.71 L207.84,209.94 L209.25,210.16 L210.67,210.36 L212.11,210.54 L213.56,210.70 L215.02,210.85 L216.50,210.98 L217.98,211.09 L219.48,211.18 L221.00,211.26 L222.52,211.33 L224.05,211.38 L225.59,211.43 L227.14,211.46 L228.70,211.48 L230.26,211.49 L231.83,211.50 L233.40,211.50 L234.98,211.49 L236.57,211.47 L238.16,211.45 L239.75,211.43 L241.34,211.41 L242.94,211.38 L244.53,211.35 L246.13,211.32 L247.72,211.30 L249.32,211.27 L250.91,211.25 L252.50,211.23 L254.09,211.22 L255.67,211.21 L257.25,211.21 L258.82,211.21 L260.39,211.23 L261.95,211.25 L263.50,211.28 L265.05,211.32 L266.58,211.38 L268.11,211.44 L269.63,211.53 L271.14,211.62 L272.63,211.73 L274.12,211.86 L275.59,212.00 L277.04,212.16 L278.49,212.35 L279.92,212.55 L281.33,212.77 L282.73,213.01 L284.11,213.28 L285.47,213.57 L286.81,213.88 L288.14,214.22 L289.45,214.59 L290.73,214.98 L292.00,215.40" fill="none" stroke="#8000ff" stroke-width="1.85" stroke-linejoin="round" />
<path d="M244.88,6.45 L244.89,7.98 L244.89,9.51 L244.89,11.04 L244.89,12.56 L244.89,14.08 L244.89,15.61 L244.88,17.13 L244.87,18.65 L244.86,20.17 L244.85,21.68 L244.84,23.20 L244.82,24.72 L244.80,26.23 L244.78,27.74 L244.76,29.26 L244.74,30.77 L244.72,32.28 L244.69,33.79 L244.66,35.30 L244.63,36.80 L244.60,38.31 L244.57,39.82 L244.53,41.32 L244.50,42.83 L244.46,44.33 L244.42,45.84 L244.38,47.34 L244.33,48.85 L244.29,50.35 L244.24,51.85 L244.19,53.35 L244.15,54.86 L244.09,56.36 L244.04,57.86 L243.99,59.36 L243.93,60.86 L243.88,62.36 L243.82,63.86 L243.76,65.36 L243.70,66.86 L243.63,68.36 L243.57,69.87 L243.50,71.37 L243.43,72.87 L243.37,74.37 L243.30,75.87 L243.23,77.37 L243.15,78.88 L243.08,80.38 L243.00,81.88 L242.93,83.38 L242.85,84.89 L242.77,86.39 L242.69,87.90 L242.61,89.40 L242.52,90.91 L242.44,92.41 L242.35,93.92 L242.27,95.43 L242.18,96.94 L242.09,98.45 L242.00,99.96 L241.91,101.47 L241.82,102.98 L241.72,104.50 L241.63,106.01 L241.53,107.53 L241.44,109.04 L241.34,110.56 L241.24,112.08 L241.14,113.60 L241.04,115.12 L240.94,116.64 L240.83,118.17 L240.73,119.69 L240.62,121.22 L240.52,122.75 L240.41,124.27 L240.29,125.80 L240.17,127.33 L240.04,128.85 L239.91,130.38 L239.76,131.90 L239.60,133.42 L239.43,134.94 L239.25,136.45 L239.05,137.96 L238.84,139.46 L238.60,140.96 L238.35,142.45 L238.08,143.94 L237.79,145.41 L237.47,146.89 L237.13,148.35 L236.77,149.80 L236.37,151.25 L235.95,152.68 L235.51,154.11 L235.03,155.52 L234.52,156.93 L233.98,158.32 L233.41,159.70 L232.81,161.08 L232.19,162.44 L231.55,163.79 L230.88,165.13 L230.18,166.47 L229.47,167.79 L228.74,169.11 L227.98,170.42 L227.21,171.71 L226.42,173.00 L225.61,174.29 L224.78,175.56 L223.95,176.82 L223.10,178.08 L222.23,179.33 L221.36,180.57 L220.47,181.81 L219.58,183.04 L218.68,184.26 L217.77,185.48 L216.85,186.68 L215.93,187.89 L215.01,189.08 L214.09,190.28 L213.16,191.46 L212.23,192.64 L211.30,193.81 L210.37,194.98 L209.45,196.15 L208.58,197.30 L207.85,198.43 L207.34,199.52 L207.14,200.56 L207.35,201.54 L208.03,202.45 L209.12,203.27 L210.46,204.02 L211.90,204.69 L213.37,205.29 L214.86,205.81 L216.37,206.28 L217.89,206.68 L219.43,207.04 L220.98,207.34 L222.54,207.61 L224.11,207.84 L225.68,208.04 L227.25,208.21 L228.82,208.37 L230.39,208.51 L231.96,208.65 L233.51,208.78 L235.06,208.92 L236.60,209.06 L238.13,209.20 L239.66,209.34 L241.18,209.48 L242.69,209.63 L244.19,209.78 L245.69,209.93 L247.19,210.08 L248.68,210.23 L250.16,210.38 L251.64,210.54 L253.12,210.70 L254.60,210.85 L256.07,211.01 L257.54,211.17 L259.02,211.33 L260.49,211.49 L261.96,211.66 L263.43,211.82 L264.90,211.98 L266.37,212.15 L267.84,212.31 L269.32,212.48 L270.80,212.65 L272.28,212.81 L273.76,212.98 L275.25,213.15 L276.75,213.32 L278.25,213.48 L279.75,213.65 L281.26,213.82 L282.78,213.99 L284.30,214.15 L285.83,214.32 L287.37,214.49 L288.92,214.65 L290.47,214.82 L292.04,214.98" fill="none" stroke="#ff8000" stroke-width="1.85" stroke-linejoin="round" />
<path d="M248.97,108.48 L248.74,110.00 L248.53,111.53 L248.35,113.05 L248.19,114.58 L248.06,116.10 L247.95,117.62 L247.85,119.14 L247.78,120.66 L247.72,122.18 L247.68,123.70 L247.65,125.22 L247.63,126.73 L247.61,128.25 L247.61,129.76 L247.61,131.28 L247.62,132.79 L247.63,134.30 L247.64,135.82 L247.66,137.33 L247.66,138.84 L247.67,140.34 L247.67,141.85 L247.66,143.36 L247.64,144.87 L247.61,146.37 L247.57,147.88 L247.52,149.38 L247.44,150.88 L247.36,152.39 L247.25,153.89 L247.12,155.39 L246.97,156.89 L246.79,158.39 L246.59,159.89 L246.37,161.39 L246.11,162.88 L245.82,164.38 L245.50,165.88 L245.14,167.37 L244.75,168.86 L244.32,170.36 L243.85,171.85 L243.36,173.34 L242.84,174.83 L242.30,176.32 L241.76,177.81 L241.21,179.29 L240.66,180.77 L240.12,182.24 L239.60,183.71 L239.11,185.18 L238.64,186.64 L238.21,188.09 L237.82,189.54 L237.48,190.98 L237.20,192.42 L236.99,193.84 L236.84,195.26 L236.77,196.67 L236.81,198.05 L237.01,199.37 L237.43,200.60 L238.07,201.71 L238.92,202.72 L239.95,203.63 L241.12,204.44 L242.42,205.16 L243.80,205.78 L245.25,206.33 L246.74,206.80 L248.26,207.20 L249.81,207.54 L251.37,207.84 L252.95,208.11 L254.53,208.35 L256.11,208.57 L257.68,208.80 L259.23,209.03 L260.77,209.27 L262.29,209.52 L263.79,209.77 L265.29,210.04 L266.77,210.30 L268.24,210.58 L269.71,210.85 L271.17,211.13 L272.63,211.40 L274.09,211.68 L275.55,211.95 L277.00,212.23 L278.47,212.49 L279.93,212.76 L281.40,213.01 L282.89,213.26 L284.38,213.51 L285.88,213.74 L287.40,213.96 L288.93,214.17 L290.48,214.37 L292.05,214.55" fill="none" stroke="#808000" stroke-width="1.85" stroke-linejoin="round" />
<line x1="232.9" y1="7.50" x2="232.9" y2="209" stroke="#f03c5a" stroke-width="1.4" stroke-dasharray="1.2,2.8"/>
</g>
<path d="M33.50,6.50 H292.50" fill="none" stroke="#b4b4b4" stroke-width="1.4"/>
<path d="M33.50,6.50 V217.20 H292.50 V6.50" fill="none" stroke="#8c8c8c" stroke-width="1"/>
<line x1="33.50" y1="217.20" x2="37.00" y2="217.20" stroke="#8c8c8c" stroke-width="1"/>
<text x="0" y="0" font-family="Liberation Sans, sans-serif" font-size="8.300" fill="#222" stroke="#222" stroke-width="0.150" transform="translate(24.630,220.057) scale(0.9600,1.0000)">0</text>
<line x1="33.50" y1="202.14" x2="35.50" y2="202.14" stroke="#8c8c8c" stroke-width="1"/>
<line x1="33.50" y1="187.08" x2="37.00" y2="187.08" stroke="#8c8c8c" stroke-width="1"/>
<text x="0" y="0" font-family="Liberation Sans, sans-serif" font-size="8.300" fill="#222" stroke="#222" stroke-width="0.150" transform="translate(24.719,189.978) scale(0.9600,1.0000)">2</text>
<line x1="33.50" y1="172.02" x2="35.50" y2="172.02" stroke="#8c8c8c" stroke-width="1"/>
<line x1="33.50" y1="156.96" x2="37.00" y2="156.96" stroke="#8c8c8c" stroke-width="1"/>
<text x="0" y="0" font-family="Liberation Sans, sans-serif" font-size="8.300" fill="#222" stroke="#222" stroke-width="0.150" transform="translate(24.552,159.815) scale(0.9600,1.0000)">4</text>
<line x1="33.50" y1="141.90" x2="35.50" y2="141.90" stroke="#8c8c8c" stroke-width="1"/>
<line x1="33.50" y1="126.84" x2="37.00" y2="126.84" stroke="#8c8c8c" stroke-width="1"/>
<text x="0" y="0" font-family="Liberation Sans, sans-serif" font-size="8.300" fill="#222" stroke="#222" stroke-width="0.150" transform="translate(24.669,129.697) scale(0.9600,1.0000)">6</text>
<line x1="33.50" y1="111.78" x2="35.50" y2="111.78" stroke="#8c8c8c" stroke-width="1"/>
<line x1="33.50" y1="96.72" x2="37.00" y2="96.72" stroke="#8c8c8c" stroke-width="1"/>
<text x="0" y="0" font-family="Liberation Sans, sans-serif" font-size="8.300" fill="#222" stroke="#222" stroke-width="0.150" transform="translate(24.665,99.577) scale(0.9600,1.0000)">8</text>
<line x1="33.50" y1="81.66" x2="35.50" y2="81.66" stroke="#8c8c8c" stroke-width="1"/>
<line x1="33.50" y1="66.60" x2="37.00" y2="66.60" stroke="#8c8c8c" stroke-width="1"/>
<text x="0" y="0" font-family="Liberation Sans, sans-serif" font-size="8.300" fill="#222" stroke="#222" stroke-width="0.150" transform="translate(20.198,69.457) scale(0.9600,1.0000)">10</text>
<line x1="33.50" y1="51.54" x2="35.50" y2="51.54" stroke="#8c8c8c" stroke-width="1"/>
<line x1="33.50" y1="36.48" x2="37.00" y2="36.48" stroke="#8c8c8c" stroke-width="1"/>
<text x="0" y="0" font-family="Liberation Sans, sans-serif" font-size="8.300" fill="#222" stroke="#222" stroke-width="0.150" transform="translate(20.288,39.378) scale(0.9600,1.0000)">12</text>
<line x1="33.50" y1="21.42" x2="35.50" y2="21.42" stroke="#8c8c8c" stroke-width="1"/>
<line x1="33.50" y1="6.36" x2="37.00" y2="6.36" stroke="#8c8c8c" stroke-width="1"/>
<text x="0" y="0" font-family="Liberation Sans, sans-serif" font-size="8.300" fill="#222" stroke="#222" stroke-width="0.150" transform="translate(20.121,9.215) scale(0.9600,1.0000)">14</text>
<line x1="33.50" y1="217.20" x2="33.50" y2="213.70" stroke="#8c8c8c" stroke-width="1"/>
<text x="0" y="0" font-family="Liberation Sans, sans-serif" font-size="8.300" fill="#222" stroke="#222" stroke-width="0.150" transform="translate(27.962,228.619) scale(0.9600,1.0000)">0.0</text>
<line x1="58.42" y1="217.20" x2="58.42" y2="215.20" stroke="#8c8c8c" stroke-width="1"/>
<line x1="83.35" y1="217.20" x2="83.35" y2="213.70" stroke="#8c8c8c" stroke-width="1"/>
<text x="0" y="0" font-family="Liberation Sans, sans-serif" font-size="8.300" fill="#222" stroke="#222" stroke-width="0.150" transform="translate(77.823,228.619) scale(0.9600,1.0000)">0.5</text>
<line x1="108.28" y1="217.20" x2="108.28" y2="215.20" stroke="#8c8c8c" stroke-width="1"/>
<line x1="133.20" y1="217.20" x2="133.20" y2="213.70" stroke="#8c8c8c" stroke-width="1"/>
<text x="0" y="0" font-family="Liberation Sans, sans-serif" font-size="8.300" fill="#222" stroke="#222" stroke-width="0.150" transform="translate(127.514,228.619) scale(0.9600,1.0000)">1.0</text>
<line x1="158.12" y1="217.20" x2="158.12" y2="215.20" stroke="#8c8c8c" stroke-width="1"/>
<line x1="183.05" y1="217.20" x2="183.05" y2="213.70" stroke="#8c8c8c" stroke-width="1"/>
<text x="0" y="0" font-family="Liberation Sans, sans-serif" font-size="8.300" fill="#222" stroke="#222" stroke-width="0.150" transform="translate(177.376,228.619) scale(0.9600,1.0000)">1.5</text>
<line x1="207.97" y1="217.20" x2="207.97" y2="215.20" stroke="#8c8c8c" stroke-width="1"/>
<line x1="232.90" y1="217.20" x2="232.90" y2="213.70" stroke="#8c8c8c" stroke-width="1"/>
<text x="0" y="0" font-family="Liberation Sans, sans-serif" font-size="8.300" fill="#222" stroke="#222" stroke-width="0.150" transform="translate(227.317,228.619) scale(0.9600,1.0000)">2.0</text>
<line x1="257.83" y1="217.20" x2="257.83" y2="215.20" stroke="#8c8c8c" stroke-width="1"/>
<line x1="282.75" y1="217.20" x2="282.75" y2="213.70" stroke="#8c8c8c" stroke-width="1"/>
<text x="0" y="0" font-family="Liberation Sans, sans-serif" font-size="8.300" fill="#222" stroke="#222" stroke-width="0.150" transform="translate(277.179,228.619) scale(0.9600,1.0000)">2.5</text>
<g clip-path="url(#cl)">
<path d="M33.50,216.10 L35.01,216.10 L36.52,216.10 L38.04,216.10 L39.55,216.10 L41.06,216.10 L42.57,216.10 L44.08,216.10 L45.59,216.10 L47.11,216.10 L48.62,216.10 L50.13,216.10 L51.64,216.10 L53.15,216.10 L54.66,216.10 L56.18,216.10 L57.69,216.10 L59.20,216.10 L60.71,216.10 L62.22,216.10 L63.73,216.10 L65.25,216.10 L66.76,216.11 L68.27,216.11 L69.78,216.11 L71.29,216.11 L72.80,216.11 L74.32,216.11 L75.83,216.11 L77.34,216.11 L78.85,216.11 L80.36,216.11 L81.87,216.11 L83.39,216.12 L84.90,216.12 L86.41,216.12 L87.92,216.12 L89.43,216.12 L90.94,216.12 L92.46,216.12 L93.97,216.12 L95.48,216.13 L96.99,216.13 L98.50,216.13 L100.01,216.13 L101.53,216.13 L103.04,216.13 L104.55,216.13 L106.06,216.14 L107.57,216.14 L109.08,216.14 L110.60,216.14 L112.11,216.14 L113.62,216.14 L115.13,216.15 L116.64,216.15 L118.16,216.15 L119.67,216.15 L121.18,216.15 L122.69,216.16 L124.20,216.16 L125.71,216.16 L127.23,216.16 L128.74,216.17 L130.25,216.17 L131.76,216.17 L133.27,216.17 L134.78,216.17 L136.30,216.18 L137.81,216.18 L139.32,216.18 L140.83,216.18 L142.34,216.19 L143.85,216.19 L145.37,216.19 L146.88,216.19 L148.39,216.20 L149.90,216.20 L151.41,216.20 L152.92,216.21 L154.44,216.21 L155.95,216.21 L157.46,216.21 L158.97,216.22 L160.48,216.22 L161.99,216.22 L163.51,216.23 L165.02,216.23 L166.53,216.23 L168.04,216.23 L169.55,216.24 L171.06,216.24 L172.58,216.24 L174.09,216.25 L175.60,216.25 L177.11,216.25 L178.62,216.26 L180.13,216.26 L181.65,216.26 L183.16,216.27 L184.67,216.27 L186.18,216.27 L187.69,216.28 L189.20,216.28 L190.72,216.29 L192.23,216.29 L193.74,216.29 L195.25,216.30 L196.76,216.30 L198.28,216.30 L199.79,216.31 L201.30,216.31 L202.81,216.32 L204.32,216.32 L205.83,216.32 L207.35,216.33 L208.86,216.33 L210.37,216.34 L211.88,216.34 L213.39,216.34 L214.90,216.35 L216.42,216.35 L217.93,216.36 L219.44,216.36 L220.95,216.36 L222.46,216.37 L223.97,216.37 L225.49,216.38 L227.00,216.38 L228.51,216.39 L230.02,216.39 L231.53,216.40 L233.04,216.40 L234.56,216.40 L236.07,216.41 L237.58,216.41 L239.09,216.42 L240.60,216.42 L242.11,216.43 L243.63,216.43 L245.14,216.44 L246.65,216.44 L248.16,216.45 L249.67,216.45 L251.18,216.46 L252.70,216.46 L254.21,216.47 L255.72,216.47 L257.23,216.48 L258.74,216.48 L260.25,216.49 L261.77,216.49 L263.28,216.50 L264.79,216.50 L266.30,216.51 L267.81,216.51 L269.32,216.52 L270.84,216.52 L272.35,216.53 L273.86,216.53 L275.37,216.54 L276.88,216.54 L278.39,216.55 L279.91,216.56 L281.42,216.56 L282.93,216.57 L284.44,216.57 L285.95,216.58 L287.46,216.58 L288.98,216.59 L290.49,216.59 L292.00,216.60" fill="none" stroke="#ff0000" stroke-width="2.20" stroke-linejoin="round" />
</g>
<rect x="296.3" y="57" width="53.4" height="77.4" fill="#fff" stroke="#8c8c8c" stroke-width="1"/>
<line x1="297.5" y1="66.20" x2="315.5" y2="66.20" stroke="#000000" stroke-width="2"/>
<text x="0" y="0" font-family="Liberation Sans, sans-serif" font-size="7.800" fill="#111" stroke="#111" stroke-width="0.150" transform="translate(315.433,68.724) scale(0.9550,1.0000)">T=0.4762</text>
<line x1="297.5" y1="75.27" x2="315.5" y2="75.27" stroke="#ff0000" stroke-width="2"/>
<text x="0" y="0" font-family="Liberation Sans, sans-serif" font-size="7.800" fill="#111" stroke="#111" stroke-width="0.150" transform="translate(315.433,77.794) scale(0.9550,1.0000)">T=0.4635</text>
<line x1="297.5" y1="84.34" x2="315.5" y2="84.34" stroke="#0000ff" stroke-width="2"/>
<text x="0" y="0" font-family="Liberation Sans, sans-serif" font-size="7.800" fill="#111" stroke="#111" stroke-width="0.150" transform="translate(315.433,86.864) scale(0.9550,1.0000)">T=0.3179</text>
<line x1="297.5" y1="93.41" x2="315.5" y2="93.41" stroke="#008000" stroke-width="2"/>
<text x="0" y="0" font-family="Liberation Sans, sans-serif" font-size="7.800" fill="#111" stroke="#111" stroke-width="0.150" transform="translate(315.433,95.934) scale(0.9550,1.0000)">T=0.2735</text>
<line x1="297.5" y1="102.48" x2="315.5" y2="102.48" stroke="#800080" stroke-width="2"/>
<text x="0" y="0" font-family="Liberation Sans, sans-serif" font-size="7.800" fill="#111" stroke="#111" stroke-width="0.150" transform="translate(315.433,105.004) scale(0.9550,1.0000)">T=0.2599</text>
<line x1="297.5" y1="111.55" x2="315.5" y2="111.55" stroke="#8000ff" stroke-width="2"/>
<text x="0" y="0" font-family="Liberation Sans, sans-serif" font-size="7.800" fill="#111" stroke="#111" stroke-width="0.150" transform="translate(315.433,114.074) scale(0.9550,1.0000)">T=0.2492</text>
<line x1="297.5" y1="120.62" x2="315.5" y2="120.62" stroke="#ff8000" stroke-width="2"/>
<text x="0" y="0" font-family="Liberation Sans, sans-serif" font-size="7.800" fill="#111" stroke="#111" stroke-width="0.150" transform="translate(315.433,123.144) scale(0.9550,1.0000)">T=0.2325</text>
<line x1="297.5" y1="129.69" x2="315.5" y2="129.69" stroke="#808000" stroke-width="2"/>
<text x="0" y="0" font-family="Liberation Sans, sans-serif" font-size="7.800" fill="#111" stroke="#111" stroke-width="0.150" transform="translate(315.433,132.214) scale(0.9550,1.0000)">T=0.2145</text>
<g clip-path="url(#cr)">
<path d="M617.68,8.85 L617.57,10.29 L617.46,11.73 L617.35,13.18 L617.25,14.63 L617.15,16.09 L617.05,17.55 L616.95,19.02 L616.85,20.49 L616.75,21.96 L616.65,23.44 L616.55,24.93 L616.45,26.41 L616.35,27.90 L616.24,29.40 L616.14,30.89 L616.03,32.39 L615.93,33.89 L615.82,35.40 L615.70,36.91 L615.59,38.42 L615.47,39.93 L615.35,41.44 L615.22,42.96 L615.09,44.47 L614.96,45.99 L614.82,47.51 L614.68,49.03 L614.53,50.55 L614.38,52.07 L614.22,53.60 L614.05,55.12 L613.88,56.64 L613.70,58.17 L613.52,59.69 L613.32,61.21 L613.12,62.74 L612.92,64.26 L612.70,65.78 L612.47,67.30 L612.24,68.82 L612.00,70.34 L611.75,71.85 L611.49,73.37 L611.22,74.88 L610.94,76.39 L610.64,77.90 L610.34,79.41 L610.03,80.91 L609.70,82.41 L609.37,83.91 L609.02,85.41 L608.66,86.90 L608.29,88.39 L607.90,89.88 L607.51,91.36 L607.09,92.84 L606.67,94.31 L606.23,95.78 L605.78,97.24 L605.31,98.70 L604.83,100.16 L604.33,101.61 L603.82,103.05 L603.30,104.49 L602.76,105.91 L602.20,107.34 L601.63,108.75 L601.04,110.15 L600.44,111.55 L599.82,112.94 L599.19,114.31 L598.53,115.68 L597.87,117.04 L597.18,118.38 L596.48,119.72 L595.76,121.04 L595.03,122.35 L594.27,123.65 L593.50,124.94 L592.72,126.21 L591.91,127.47 L591.09,128.71 L590.24,129.94 L589.38,131.16 L588.50,132.36 L587.61,133.54 L586.69,134.71 L585.75,135.86 L584.80,137.00 L583.83,138.12 L582.83,139.22 L581.83,140.31 L580.80,141.38 L579.76,142.43 L578.70,143.47 L577.62,144.49 L576.53,145.50 L575.42,146.49 L574.30,147.47 L573.16,148.43 L572.01,149.38 L570.84,150.31 L569.67,151.23 L568.47,152.13 L567.27,153.02 L566.05,153.89 L564.82,154.75 L563.58,155.59 L562.33,156.42 L561.07,157.24 L559.79,158.04 L558.51,158.83 L557.22,159.60 L555.92,160.36 L554.60,161.11 L553.28,161.84 L551.95,162.56 L550.62,163.27 L549.27,163.97 L547.92,164.65 L546.57,165.32 L545.20,165.97 L543.83,166.62 L542.46,167.25 L541.08,167.87 L539.69,168.47 L538.30,169.07 L536.91,169.65 L535.51,170.22 L534.10,170.78 L532.70,171.33 L531.28,171.87 L529.87,172.39 L528.45,172.91 L527.03,173.41 L525.60,173.90 L524.17,174.39 L522.73,174.86 L521.29,175.32 L519.85,175.78 L518.41,176.22 L516.96,176.65 L515.51,177.08 L514.05,177.49 L512.59,177.90 L511.13,178.30 L509.67,178.69 L508.20,179.07 L506.73,179.44 L505.26,179.80 L503.78,180.16 L502.31,180.51 L500.83,180.85 L499.35,181.18 L497.86,181.51 L496.38,181.83 L494.89,182.14 L493.40,182.45 L491.91,182.74 L490.41,183.04 L488.92,183.32 L487.42,183.60 L485.92,183.88 L484.42,184.15 L482.92,184.41 L481.42,184.67 L479.91,184.92 L478.41,185.17 L476.90,185.41 L475.40,185.65 L473.89,185.88 L472.38,186.11 L470.87,186.33 L469.36,186.55 L467.85,186.77 L466.34,186.98 L464.83,187.19 L463.32,187.40 L461.81,187.60 L460.30,187.81 L458.79,188.00 L457.28,188.20 L455.76,188.39 L454.25,188.58 L452.74,188.77 L451.23,188.96 L449.72,189.14 L448.21,189.32 L446.71,189.50 L445.20,189.69 L443.69,189.86 L442.19,190.04 L440.68,190.22 L439.18,190.40 L437.68,190.57 L436.18,190.75 L434.68,190.93 L433.18,191.10 L431.68,191.28 L430.19,191.46 L428.69,191.64 L427.20,191.82 L425.71,191.99 L424.22,192.18 L422.74,192.36 L421.26,192.54 L419.77,192.73 L418.30,192.92 L416.82,193.10 L415.35,193.30 L413.87,193.49 L412.40,193.69 L410.94,193.89 L409.48,194.09 L408.01,194.29 L406.56,194.50 L405.10,194.71 L403.65,194.93 L402.20,195.15" fill="none" stroke="#444444" stroke-width="1.00" stroke-linejoin="round"/>
<path d="M403.30,197.23 L404.80,197.34 L406.31,197.46 L407.82,197.58 L409.33,197.69 L410.83,197.81 L412.34,197.92 L413.85,198.04 L415.36,198.15 L416.86,198.26 L418.37,198.38 L419.88,198.49 L421.39,198.60 L422.89,198.71 L424.40,198.82 L425.91,198.93 L427.42,199.04 L428.93,199.15 L430.43,199.26 L431.94,199.36 L433.45,199.47 L434.96,199.58 L436.47,199.68 L437.97,199.79 L439.48,199.89 L440.99,200.00 L442.50,200.10 L444.01,200.21 L445.51,200.31 L447.02,200.41 L448.53,200.51 L450.04,200.61 L451.55,200.71 L453.06,200.82 L454.56,200.92 L456.07,201.01 L457.58,201.11 L459.09,201.21 L460.60,201.31 L462.11,201.41 L463.61,201.51 L465.12,201.60 L466.63,201.70 L468.14,201.79 L469.65,201.89 L471.16,201.98 L472.67,202.08 L474.17,202.17 L475.68,202.27 L477.19,202.36 L478.70,202.45 L480.21,202.55 L481.72,202.64 L483.23,202.73 L484.74,202.82 L486.25,202.91 L487.75,203.00 L489.26,203.09 L490.77,203.18 L492.28,203.27 L493.79,203.36 L495.30,203.45 L496.81,203.54 L498.32,203.63 L499.83,203.71 L501.34,203.80 L502.85,203.89 L504.35,203.98 L505.86,204.06 L507.37,204.15 L508.88,204.23 L510.39,204.32 L511.90,204.40 L513.41,204.49 L514.92,204.57 L516.43,204.66 L517.94,204.74 L519.45,204.82 L520.96,204.91 L522.47,204.99 L523.98,205.07 L525.48,205.15 L526.99,205.24 L528.50,205.32 L530.01,205.40 L531.52,205.48 L533.03,205.56 L534.54,205.64 L536.05,205.72 L537.56,205.80 L539.07,205.88 L540.58,205.96 L542.09,206.04 L543.60,206.12 L545.11,206.20 L546.62,206.28 L548.13,206.36 L549.64,206.43 L551.15,206.51 L552.66,206.59 L554.17,206.67 L555.68,206.74 L557.19,206.82 L558.70,206.90 L560.21,206.98 L561.72,207.05 L563.23,207.13 L564.74,207.21 L566.25,207.28 L567.76,207.36 L569.26,207.43 L570.77,207.51 L572.28,207.58 L573.79,207.66 L575.30,207.73 L576.81,207.81 L578.32,207.88 L579.83,207.96 L581.34,208.03 L582.85,208.11 L584.36,208.18 L585.87,208.26 L587.38,208.33 L588.89,208.40 L590.40,208.48 L591.91,208.55 L593.42,208.62 L594.93,208.70 L596.44,208.77 L597.95,208.84 L599.46,208.92 L600.97,208.99 L602.48,209.06 L603.99,209.14 L605.50,209.21 L607.01,209.28 L608.52,209.35 L610.03,209.43 L611.54,209.50 L613.05,209.57 L614.56,209.64 L616.07,209.72 L617.58,209.79 L619.09,209.86 L620.60,209.93 L622.11,210.00 L623.62,210.08 L625.13,210.15 L626.64,210.22 L628.15,210.29 L629.66,210.37 L631.17,210.44 L632.68,210.51 L634.19,210.58 L635.70,210.65 L637.21,210.73 L638.72,210.80 L640.23,210.87 L641.74,210.94 L643.25,211.01 L644.76,211.09 L646.27,211.16 L647.78,211.23 L649.29,211.30 L650.80,211.38 L652.31,211.45 L653.82,211.52 L655.33,211.59 L656.84,211.67 L658.35,211.74 L659.86,211.81 L661.37,211.88 L662.88,211.96 L664.39,212.03 L665.90,212.10 L667.41,212.18 L668.92,212.25 L670.43,212.32 L671.94,212.40 L673.45,212.47 L674.96,212.54 L676.47,212.62 L677.98,212.69 L679.49,212.77 L681.00,212.84" fill="none" stroke="#444444" stroke-width="1.00" stroke-linejoin="round"/>
<path d="M619.58,8.91 L619.52,10.31 L619.45,11.72 L619.39,13.13 L619.32,14.56 L619.26,15.99 L619.20,17.43 L619.13,18.87 L619.07,20.32 L619.00,21.78 L618.94,23.25 L618.87,24.72 L618.80,26.19 L618.73,27.67 L618.65,29.16 L618.58,30.65 L618.50,32.15 L618.42,33.65 L618.34,35.16 L618.25,36.67 L618.17,38.18 L618.07,39.70 L617.98,41.22 L617.88,42.74 L617.77,44.27 L617.67,45.80 L617.55,47.33 L617.44,48.86 L617.31,50.40 L617.19,51.93 L617.05,53.47 L616.92,55.01 L616.77,56.55 L616.62,58.10 L616.47,59.64 L616.30,61.18 L616.13,62.72 L615.96,64.27 L615.78,65.81 L615.58,67.35 L615.39,68.89 L615.18,70.43 L614.97,71.97 L614.75,73.51 L614.52,75.04 L614.28,76.57 L614.03,78.10 L613.77,79.63 L613.51,81.16 L613.23,82.68 L612.95,84.20 L612.65,85.71 L612.35,87.22 L612.03,88.73 L611.70,90.23 L611.37,91.73 L611.02,93.23 L610.66,94.72 L610.29,96.20 L609.91,97.68 L609.52,99.15 L609.11,100.62 L608.69,102.08 L608.26,103.54 L607.82,104.98 L607.36,106.43 L606.89,107.86 L606.41,109.29 L605.91,110.71 L605.40,112.12 L604.88,113.52 L604.34,114.92 L603.79,116.31 L603.22,117.68 L602.64,119.05 L602.04,120.41 L601.43,121.77 L600.80,123.11 L600.16,124.44 L599.50,125.76 L598.82,127.07 L598.13,128.37 L597.42,129.66 L596.70,130.94 L595.95,132.21 L595.19,133.46 L594.42,134.71 L593.62,135.94 L592.81,137.16 L591.98,138.37 L591.13,139.56 L590.26,140.74 L589.37,141.91 L588.47,143.07 L587.54,144.21 L586.60,145.33 L585.63,146.45 L584.65,147.55 L583.64,148.63 L582.62,149.70 L581.58,150.75 L580.51,151.79 L579.43,152.82 L578.32,153.83 L577.20,154.82 L576.05,155.80 L574.89,156.76 L573.72,157.71 L572.52,158.64 L571.31,159.56 L570.08,160.47 L568.84,161.36 L567.59,162.23 L566.32,163.09 L565.03,163.94 L563.73,164.77 L562.43,165.59 L561.11,166.39 L559.77,167.18 L558.43,167.96 L557.08,168.72 L555.72,169.46 L554.35,170.20 L552.97,170.92 L551.58,171.62 L550.19,172.32 L548.79,172.99 L547.38,173.66 L545.97,174.31 L544.55,174.95 L543.13,175.57 L541.70,176.19 L540.27,176.78 L538.84,177.37 L537.41,177.94 L535.97,178.50 L534.54,179.05 L533.10,179.58 L531.66,180.10 L530.23,180.61 L528.79,181.11 L527.36,181.59 L525.93,182.06 L524.50,182.52 L523.07,182.97 L521.65,183.40 L520.24,183.82 L518.83,184.23 L517.42,184.63 L516.02,185.03 L514.62,185.42 L513.22,185.82 L511.83,186.23 L510.43,186.65 L509.03,187.09 L507.63,187.54 L506.22,188.03 L504.81,188.55 L503.40,189.10 L501.97,189.69 L500.54,190.33 L499.10,191.02 L497.66,191.75 L496.32,192.54 L495.18,193.35 L494.38,194.17 L494.00,194.99 L494.07,195.79 L494.55,196.56 L495.40,197.29 L496.53,197.98 L497.89,198.62 L499.42,199.22 L501.05,199.76 L502.73,200.25 L504.38,200.68 L506.02,201.05 L507.64,201.38 L509.23,201.65 L510.81,201.88 L512.37,202.08 L513.92,202.23 L515.46,202.36 L516.98,202.46 L518.49,202.54 L520.00,202.60 L521.50,202.65 L522.99,202.69 L524.48,202.72 L525.97,202.75 L527.46,202.78 L528.95,202.82 L530.44,202.86 L531.93,202.91 L533.42,202.96 L534.92,203.02 L536.41,203.08 L537.90,203.14 L539.40,203.21 L540.89,203.29 L542.39,203.36 L543.89,203.45 L545.39,203.53 L546.88,203.62 L548.38,203.71 L549.88,203.81 L551.38,203.91 L552.88,204.01 L554.38,204.11 L555.89,204.22 L557.39,204.33 L558.89,204.44 L560.39,204.55 L561.90,204.67 L563.40,204.79 L564.91,204.91 L566.41,205.03 L567.92,205.16 L569.42,205.28 L570.93,205.41 L572.43,205.54 L573.94,205.66 L575.45,205.79 L576.95,205.93 L578.46,206.06 L579.97,206.19 L581.48,206.32 L582.99,206.45 L584.49,206.59 L586.00,206.72 L587.51,206.85 L589.02,206.98 L590.53,207.12 L592.04,207.25 L593.55,207.38 L595.06,207.51 L596.57,207.64 L598.08,207.77 L599.58,207.89 L601.09,208.02 L602.60,208.14 L604.11,208.27 L605.62,208.39 L607.13,208.51 L608.64,208.62 L610.15,208.74 L611.66,208.85 L613.16,208.96 L614.67,209.07 L616.18,209.17 L617.69,209.27 L619.20,209.37 L620.70,209.47 L622.21,209.56 L623.72,209.65 L625.22,209.74 L626.73,209.82 L628.24,209.91 L629.74,209.99 L631.25,210.06 L632.76,210.14 L634.26,210.21 L635.77,210.29 L637.27,210.36 L638.78,210.43 L640.29,210.50 L641.79,210.56 L643.30,210.63 L644.80,210.70 L646.31,210.76 L647.81,210.83 L649.32,210.89 L650.83,210.96 L652.33,211.02 L653.84,211.09 L655.35,211.16 L656.85,211.22 L658.36,211.29 L659.87,211.36 L661.37,211.43 L662.88,211.50 L664.39,211.58 L665.90,211.65 L667.41,211.73 L668.92,211.81 L670.43,211.89 L671.94,211.97 L673.45,212.06 L674.96,212.15 L676.47,212.24 L677.98,212.34 L679.49,212.43 L681.00,212.53" fill="none" stroke="#3c3cff" stroke-width="1.00" stroke-linejoin="round"/>
<path d="M622.78,8.92 L622.67,10.32 L622.56,11.73 L622.46,13.15 L622.37,14.57 L622.27,16.00 L622.18,17.44 L622.09,18.88 L622.00,20.33 L621.92,21.79 L621.84,23.25 L621.76,24.72 L621.68,26.20 L621.60,27.68 L621.52,29.16 L621.44,30.65 L621.37,32.15 L621.29,33.65 L621.21,35.15 L621.13,36.66 L621.05,38.17 L620.97,39.69 L620.89,41.21 L620.81,42.73 L620.73,44.25 L620.64,45.78 L620.55,47.31 L620.46,48.85 L620.37,50.38 L620.27,51.92 L620.17,53.46 L620.06,55.00 L619.96,56.54 L619.84,58.09 L619.73,59.63 L619.61,61.17 L619.48,62.72 L619.35,64.27 L619.21,65.81 L619.07,67.36 L618.93,68.90 L618.77,70.45 L618.61,71.99 L618.44,73.54 L618.27,75.08 L618.09,76.62 L617.90,78.16 L617.70,79.69 L617.50,81.23 L617.29,82.76 L617.07,84.29 L616.84,85.82 L616.60,87.34 L616.35,88.86 L616.09,90.38 L615.83,91.89 L615.55,93.40 L615.26,94.91 L614.97,96.41 L614.66,97.91 L614.34,99.40 L614.01,100.89 L613.66,102.37 L613.31,103.85 L612.94,105.32 L612.57,106.79 L612.18,108.25 L611.77,109.71 L611.35,111.15 L610.92,112.60 L610.48,114.03 L610.02,115.46 L609.55,116.88 L609.06,118.29 L608.56,119.70 L608.05,121.09 L607.52,122.48 L606.97,123.86 L606.41,125.24 L605.83,126.60 L605.24,127.96 L604.63,129.30 L604.00,130.64 L603.36,131.96 L602.70,133.28 L602.02,134.59 L601.32,135.88 L600.61,137.17 L599.87,138.45 L599.12,139.71 L598.35,140.96 L597.56,142.21 L596.76,143.44 L595.93,144.66 L595.08,145.86 L594.22,147.06 L593.33,148.24 L592.43,149.41 L591.50,150.57 L590.56,151.71 L589.60,152.85 L588.62,153.97 L587.62,155.07 L586.61,156.17 L585.58,157.25 L584.53,158.31 L583.46,159.37 L582.38,160.41 L581.28,161.43 L580.17,162.45 L579.04,163.44 L577.89,164.43 L576.73,165.40 L575.55,166.36 L574.36,167.30 L573.15,168.22 L571.93,169.14 L570.69,170.03 L569.44,170.92 L568.18,171.78 L566.90,172.63 L565.61,173.47 L564.30,174.29 L562.99,175.10 L561.66,175.89 L560.32,176.66 L558.96,177.42 L557.59,178.16 L556.22,178.89 L554.83,179.60 L553.43,180.29 L552.01,180.97 L550.59,181.63 L549.16,182.27 L547.71,182.89 L546.26,183.50 L544.80,184.09 L543.32,184.67 L541.84,185.22 L540.35,185.76 L538.88,186.30 L537.44,186.85 L536.06,187.43 L534.78,188.06 L533.61,188.75 L532.59,189.52 L531.73,190.38 L531.07,191.37 L530.63,192.48 L530.44,193.74 L530.55,195.10 L531.07,196.36 L532.05,197.36 L533.38,198.14 L534.89,198.76 L536.45,199.25 L537.99,199.66 L539.52,200.00 L541.04,200.29 L542.55,200.54 L544.07,200.77 L545.58,200.99 L547.09,201.20 L548.60,201.41 L550.10,201.62 L551.61,201.82 L553.12,202.01 L554.62,202.20 L556.13,202.39 L557.63,202.57 L559.14,202.74 L560.64,202.91 L562.14,203.08 L563.65,203.24 L565.15,203.40 L566.65,203.56 L568.15,203.71 L569.65,203.86 L571.15,204.00 L572.65,204.14 L574.15,204.28 L575.65,204.42 L577.15,204.55 L578.65,204.68 L580.15,204.81 L581.65,204.93 L583.15,205.06 L584.65,205.18 L586.15,205.30 L587.65,205.41 L589.15,205.53 L590.65,205.64 L592.16,205.76 L593.66,205.87 L595.16,205.98 L596.66,206.09 L598.16,206.20 L599.67,206.30 L601.17,206.41 L602.67,206.52 L604.18,206.62 L605.68,206.73 L607.19,206.83 L608.69,206.94 L610.20,207.04 L611.70,207.15 L613.21,207.25 L614.72,207.36 L616.22,207.46 L617.73,207.56 L619.24,207.67 L620.75,207.77 L622.25,207.87 L623.76,207.98 L625.27,208.08 L626.78,208.18 L628.29,208.29 L629.80,208.39 L631.31,208.49 L632.81,208.60 L634.32,208.70 L635.83,208.80 L637.34,208.91 L638.85,209.01 L640.36,209.12 L641.87,209.22 L643.38,209.33 L644.88,209.43 L646.39,209.54 L647.90,209.65 L649.41,209.76 L650.92,209.86 L652.43,209.97 L653.93,210.08 L655.44,210.19 L656.95,210.30 L658.45,210.42 L659.96,210.53 L661.46,210.64 L662.97,210.76 L664.48,210.87 L665.98,210.99 L667.48,211.10 L668.99,211.22 L670.49,211.34 L671.99,211.46 L673.50,211.58 L675.00,211.70 L676.50,211.82 L678.00,211.95 L679.50,212.07 L681.00,212.20" fill="none" stroke="#b0b040" stroke-width="1.00" stroke-linejoin="round"/>
<path d="M625.89,8.75 L625.82,10.25 L625.75,11.75 L625.69,13.25 L625.63,14.75 L625.57,16.26 L625.52,17.76 L625.47,19.27 L625.42,20.77 L625.37,22.28 L625.32,23.79 L625.28,25.30 L625.24,26.81 L625.20,28.32 L625.16,29.83 L625.12,31.34 L625.08,32.85 L625.04,34.36 L625.00,35.88 L624.96,37.39 L624.92,38.90 L624.88,40.42 L624.84,41.93 L624.80,43.45 L624.76,44.96 L624.71,46.48 L624.66,47.99 L624.62,49.51 L624.56,51.02 L624.51,52.54 L624.45,54.05 L624.40,55.56 L624.33,57.08 L624.27,58.59 L624.20,60.11 L624.12,61.62 L624.05,63.13 L623.97,64.64 L623.88,66.15 L623.79,67.66 L623.69,69.17 L623.59,70.68 L623.49,72.19 L623.37,73.70 L623.26,75.21 L623.13,76.71 L623.00,78.22 L622.86,79.72 L622.72,81.22 L622.57,82.73 L622.41,84.23 L622.25,85.72 L622.07,87.22 L621.89,88.72 L621.70,90.21 L621.50,91.71 L621.30,93.20 L621.08,94.69 L620.86,96.18 L620.63,97.67 L620.38,99.15 L620.13,100.64 L619.87,102.12 L619.59,103.60 L619.31,105.08 L619.02,106.55 L618.71,108.03 L618.39,109.50 L618.07,110.97 L617.73,112.44 L617.38,113.91 L617.01,115.37 L616.64,116.83 L616.25,118.29 L615.85,119.75 L615.43,121.20 L615.01,122.65 L614.57,124.10 L614.11,125.55 L613.65,126.99 L613.16,128.43 L612.67,129.87 L612.16,131.31 L611.63,132.74 L611.09,134.17 L610.54,135.60 L609.96,137.02 L609.38,138.44 L608.77,139.85 L608.15,141.25 L607.52,142.65 L606.86,144.04 L606.19,145.41 L605.50,146.77 L604.78,148.12 L604.05,149.46 L603.30,150.78 L602.53,152.08 L601.74,153.36 L600.93,154.63 L600.10,155.87 L599.24,157.09 L598.37,158.29 L597.47,159.46 L596.54,160.61 L595.60,161.73 L594.62,162.82 L593.63,163.88 L592.61,164.91 L591.57,165.91 L590.50,166.89 L589.41,167.85 L588.30,168.78 L587.16,169.70 L586.01,170.61 L584.84,171.52 L583.65,172.42 L582.45,173.31 L581.23,174.21 L580.00,175.12 L578.75,176.04 L577.49,176.97 L576.21,177.92 L574.93,178.88 L573.64,179.88 L572.33,180.90 L571.02,181.95 L569.71,183.03 L568.40,184.16 L567.13,185.30 L565.96,186.47 L564.93,187.65 L564.09,188.83 L563.48,189.99 L563.15,191.15 L563.14,192.26 L563.46,193.30 L564.08,194.27 L564.96,195.17 L566.04,195.99 L567.27,196.77 L568.62,197.48 L570.01,198.15 L571.42,198.78 L572.84,199.37 L574.27,199.92 L575.71,200.43 L577.17,200.91 L578.63,201.36 L580.09,201.77 L581.57,202.15 L583.05,202.51 L584.54,202.84 L586.04,203.14 L587.54,203.42 L589.05,203.67 L590.56,203.91 L592.07,204.12 L593.59,204.32 L595.11,204.51 L596.64,204.67 L598.16,204.83 L599.69,204.98 L601.22,205.11 L602.75,205.24 L604.28,205.37 L605.81,205.48 L607.34,205.60 L608.87,205.72 L610.39,205.83 L611.92,205.95 L613.43,206.07 L614.95,206.19 L616.46,206.33 L617.97,206.47 L619.47,206.62 L620.97,206.78 L622.46,206.96 L623.95,207.14 L625.43,207.33 L626.91,207.53 L628.39,207.73 L629.86,207.93 L631.34,208.13 L632.82,208.32 L634.30,208.51 L635.78,208.70 L637.26,208.87 L638.75,209.03 L640.24,209.18 L641.74,209.31 L643.24,209.43 L644.75,209.53 L646.26,209.63 L647.78,209.71 L649.29,209.79 L650.81,209.86 L652.34,209.93 L653.86,209.99 L655.38,210.06 L656.91,210.12 L658.44,210.18 L659.96,210.25 L661.49,210.32 L663.01,210.39 L664.53,210.48 L666.05,210.57 L667.56,210.67 L669.08,210.78 L670.58,210.91 L672.09,211.06 L673.59,211.21 L675.08,211.39 L676.57,211.59 L678.05,211.80 L679.53,212.04 L681.00,212.31" fill="none" stroke="#ff3030" stroke-width="1.00" stroke-linejoin="round"/>
<path d="M630.36,27.06 L630.28,28.54 L630.20,30.02 L630.12,31.51 L630.06,32.99 L629.99,34.48 L629.93,35.98 L629.88,37.47 L629.83,38.97 L629.79,40.47 L629.75,41.98 L629.71,43.48 L629.67,44.99 L629.64,46.50 L629.61,48.01 L629.59,49.53 L629.57,51.05 L629.54,52.56 L629.52,54.08 L629.51,55.60 L629.49,57.13 L629.47,58.65 L629.45,60.18 L629.44,61.70 L629.42,63.23 L629.40,64.76 L629.39,66.29 L629.37,67.82 L629.35,69.35 L629.33,70.88 L629.30,72.41 L629.28,73.94 L629.25,75.48 L629.22,77.01 L629.19,78.54 L629.15,80.07 L629.11,81.61 L629.06,83.14 L629.01,84.67 L628.96,86.20 L628.90,87.73 L628.84,89.26 L628.77,90.79 L628.70,92.32 L628.62,93.85 L628.53,95.38 L628.44,96.90 L628.34,98.43 L628.24,99.95 L628.12,101.47 L628.00,102.99 L627.87,104.51 L627.73,106.03 L627.59,107.54 L627.43,109.06 L627.27,110.57 L627.10,112.08 L626.92,113.59 L626.72,115.09 L626.52,116.59 L626.31,118.09 L626.08,119.59 L625.85,121.09 L625.60,122.58 L625.34,124.07 L625.07,125.55 L624.79,127.04 L624.49,128.52 L624.19,129.99 L623.87,131.46 L623.53,132.93 L623.18,134.40 L622.82,135.86 L622.45,137.32 L622.05,138.78 L621.65,140.23 L621.23,141.67 L620.79,143.12 L620.34,144.55 L619.88,145.99 L619.40,147.42 L618.91,148.85 L618.40,150.27 L617.88,151.68 L617.35,153.10 L616.80,154.51 L616.24,155.91 L615.67,157.31 L615.09,158.71 L614.49,160.10 L613.89,161.48 L613.27,162.87 L612.64,164.24 L612.00,165.62 L611.34,166.99 L610.68,168.35 L610.01,169.71 L609.32,171.06 L608.63,172.41 L607.92,173.76 L607.21,175.10 L606.49,176.43 L605.75,177.76 L605.01,179.09 L604.26,180.41 L603.50,181.72 L602.74,183.03 L601.96,184.34 L601.18,185.64 L600.39,186.93 L599.59,188.22 L598.82,189.51 L598.18,190.78 L597.80,192.02 L597.78,193.24 L598.12,194.41 L598.82,195.50 L599.85,196.50 L601.15,197.40 L602.65,198.20 L604.28,198.91 L605.96,199.55 L607.62,200.11 L609.22,200.61 L610.79,201.05 L612.31,201.44 L613.81,201.79 L615.29,202.10 L616.75,202.39 L618.21,202.65 L619.66,202.90 L621.11,203.14 L622.57,203.38 L624.03,203.61 L625.50,203.85 L626.97,204.07 L628.45,204.30 L629.93,204.52 L631.42,204.74 L632.91,204.96 L634.40,205.17 L635.89,205.39 L637.39,205.60 L638.89,205.81 L640.40,206.01 L641.90,206.22 L643.41,206.43 L644.92,206.64 L646.43,206.84 L647.94,207.05 L649.46,207.25 L650.97,207.46 L652.48,207.66 L654.00,207.87 L655.51,208.08 L657.03,208.29 L658.54,208.50 L660.05,208.71 L661.56,208.93 L663.07,209.15 L664.58,209.36 L666.09,209.59 L667.59,209.81 L669.09,210.04 L670.59,210.27 L672.09,210.50 L673.58,210.74 L675.07,210.98 L676.56,211.23 L678.04,211.48 L679.52,211.74 L680.99,212.00" fill="none" stroke="#209020" stroke-width="1.00" stroke-linejoin="round"/>
<path d="M634.07,69.97 L633.93,71.50 L633.80,73.03 L633.68,74.56 L633.58,76.09 L633.48,77.62 L633.39,79.14 L633.32,80.66 L633.25,82.19 L633.19,83.71 L633.14,85.23 L633.09,86.75 L633.05,88.26 L633.02,89.78 L632.99,91.29 L632.96,92.81 L632.94,94.32 L632.91,95.83 L632.90,97.34 L632.88,98.85 L632.86,100.36 L632.84,101.87 L632.83,103.37 L632.81,104.88 L632.79,106.38 L632.76,107.88 L632.73,109.38 L632.70,110.88 L632.67,112.38 L632.62,113.88 L632.58,115.38 L632.52,116.88 L632.46,118.37 L632.39,119.87 L632.31,121.36 L632.22,122.86 L632.12,124.35 L632.01,125.84 L631.89,127.33 L631.76,128.82 L631.61,130.31 L631.45,131.80 L631.28,133.29 L631.09,134.78 L630.89,136.26 L630.67,137.75 L630.43,139.24 L630.18,140.72 L629.90,142.21 L629.61,143.69 L629.30,145.17 L628.97,146.66 L628.62,148.14 L628.25,149.62 L627.85,151.10 L627.43,152.58 L626.99,154.07 L626.53,155.55 L626.03,157.03 L625.52,158.51 L624.98,159.99 L624.41,161.46 L623.82,162.94 L623.22,164.42 L622.61,165.90 L622.00,167.37 L621.39,168.84 L620.79,170.31 L620.21,171.77 L619.66,173.23 L619.13,174.69 L618.64,176.14 L618.19,177.58 L617.79,179.02 L617.45,180.46 L617.16,181.88 L616.95,183.30 L616.81,184.72 L616.74,186.12 L616.77,187.52 L616.88,188.90 L617.10,190.28 L617.42,191.64 L617.84,192.98 L618.37,194.27 L619.02,195.50 L619.78,196.66 L620.65,197.73 L621.65,198.70 L622.75,199.56 L623.96,200.33 L625.26,201.01 L626.64,201.60 L628.09,202.13 L629.59,202.58 L631.15,202.98 L632.74,203.34 L634.35,203.64 L635.97,203.92 L637.60,204.17 L639.22,204.40 L640.82,204.62 L642.40,204.84 L643.95,205.05 L645.48,205.25 L647.00,205.45 L648.49,205.65 L649.97,205.85 L651.44,206.05 L652.90,206.25 L654.35,206.45 L655.79,206.65 L657.23,206.86 L658.66,207.07 L660.09,207.28 L661.52,207.50 L662.95,207.73 L664.39,207.97 L665.83,208.21 L667.28,208.46 L668.74,208.73 L670.21,209.00 L671.70,209.29 L673.20,209.59 L674.72,209.90 L676.25,210.23 L677.81,210.57 L679.39,210.93 L681.00,211.31" fill="none" stroke="#5050e0" stroke-width="1.00" stroke-linejoin="round"/>
<line x1="619.6" y1="9.75" x2="619.6" y2="211" stroke="#ff6a7c" stroke-width="1.0" stroke-dasharray="1.1,3.4"/>
</g>
<path d="M401.50,8.75 V216.30 H684.60" fill="none" stroke="#555" stroke-width="1.2"/>
<path d="M401.50,8.75 H684.60 V216.30" fill="none" stroke="#a6a6a6" stroke-width="1.6"/>
<line x1="401.50" y1="216.30" x2="405.50" y2="216.30" stroke="#555" stroke-width="1"/>
<text x="0" y="0" font-family="Liberation Sans, sans-serif" font-size="8.500" fill="#111" stroke="#111" stroke-width="0.140" transform="translate(392.397,219.226) scale(1.0700,1.0000)">0</text>
<line x1="401.50" y1="195.55" x2="403.50" y2="195.55" stroke="#555" stroke-width="1"/>
<line x1="401.50" y1="174.79" x2="405.50" y2="174.79" stroke="#555" stroke-width="1"/>
<text x="0" y="0" font-family="Liberation Sans, sans-serif" font-size="8.500" fill="#111" stroke="#111" stroke-width="0.140" transform="translate(392.499,177.758) scale(1.0700,1.0000)">2</text>
<line x1="401.50" y1="154.04" x2="403.50" y2="154.04" stroke="#555" stroke-width="1"/>
<line x1="401.50" y1="133.28" x2="405.50" y2="133.28" stroke="#555" stroke-width="1"/>
<text x="0" y="0" font-family="Liberation Sans, sans-serif" font-size="8.500" fill="#111" stroke="#111" stroke-width="0.140" transform="translate(392.308,136.204) scale(1.0700,1.0000)">4</text>
<line x1="401.50" y1="112.53" x2="403.50" y2="112.53" stroke="#555" stroke-width="1"/>
<line x1="401.50" y1="91.77" x2="405.50" y2="91.77" stroke="#555" stroke-width="1"/>
<text x="0" y="0" font-family="Liberation Sans, sans-serif" font-size="8.500" fill="#111" stroke="#111" stroke-width="0.140" transform="translate(392.441,94.696) scale(1.0700,1.0000)">6</text>
<line x1="401.50" y1="71.02" x2="403.50" y2="71.02" stroke="#555" stroke-width="1"/>
<line x1="401.50" y1="50.26" x2="405.50" y2="50.26" stroke="#555" stroke-width="1"/>
<text x="0" y="0" font-family="Liberation Sans, sans-serif" font-size="8.500" fill="#111" stroke="#111" stroke-width="0.140" transform="translate(392.437,53.186) scale(1.0700,1.0000)">8</text>
<line x1="401.50" y1="29.51" x2="403.50" y2="29.51" stroke="#555" stroke-width="1"/>
<line x1="401.50" y1="8.75" x2="405.50" y2="8.75" stroke="#555" stroke-width="1"/>
<text x="0" y="0" font-family="Liberation Sans, sans-serif" font-size="8.500" fill="#111" stroke="#111" stroke-width="0.140" transform="translate(387.339,11.676) scale(1.0700,1.0000)">10</text>
<line x1="401.50" y1="216.30" x2="401.50" y2="212.30" stroke="#555" stroke-width="1"/>
<text x="0" y="0" font-family="Liberation Sans, sans-serif" font-size="8.500" fill="#111" stroke="#111" stroke-width="0.140" transform="translate(395.178,227.817) scale(1.0700,1.0000)">0.0</text>
<line x1="428.50" y1="216.30" x2="428.50" y2="214.30" stroke="#555" stroke-width="1"/>
<line x1="456.50" y1="216.30" x2="456.50" y2="212.30" stroke="#555" stroke-width="1"/>
<text x="0" y="0" font-family="Liberation Sans, sans-serif" font-size="8.500" fill="#111" stroke="#111" stroke-width="0.140" transform="translate(450.192,227.817) scale(1.0700,1.0000)">0.5</text>
<line x1="483.50" y1="216.30" x2="483.50" y2="214.30" stroke="#555" stroke-width="1"/>
<line x1="510.50" y1="216.30" x2="510.50" y2="212.30" stroke="#555" stroke-width="1"/>
<text x="0" y="0" font-family="Liberation Sans, sans-serif" font-size="8.500" fill="#111" stroke="#111" stroke-width="0.140" transform="translate(504.010,227.817) scale(1.0700,1.0000)">1.0</text>
<line x1="538.50" y1="216.30" x2="538.50" y2="214.30" stroke="#555" stroke-width="1"/>
<line x1="565.50" y1="216.30" x2="565.50" y2="212.30" stroke="#555" stroke-width="1"/>
<text x="0" y="0" font-family="Liberation Sans, sans-serif" font-size="8.500" fill="#111" stroke="#111" stroke-width="0.140" transform="translate(559.023,227.817) scale(1.0700,1.0000)">1.5</text>
<line x1="592.50" y1="216.30" x2="592.50" y2="214.30" stroke="#555" stroke-width="1"/>
<line x1="619.50" y1="216.30" x2="619.50" y2="212.30" stroke="#555" stroke-width="1"/>
<text x="0" y="0" font-family="Liberation Sans, sans-serif" font-size="8.500" fill="#111" stroke="#111" stroke-width="0.140" transform="translate(613.127,227.817) scale(1.0700,1.0000)">2.0</text>
<line x1="647.50" y1="216.30" x2="647.50" y2="214.30" stroke="#555" stroke-width="1"/>
<line x1="674.50" y1="216.30" x2="674.50" y2="212.30" stroke="#555" stroke-width="1"/>
<text x="0" y="0" font-family="Liberation Sans, sans-serif" font-size="8.500" fill="#111" stroke="#111" stroke-width="0.140" transform="translate(668.141,227.817) scale(1.0700,1.0000)">2.5</text>
<rect x="407.8" y="16.4" width="52.7" height="56.7" fill="#fff" stroke="#9a9a9a" stroke-width="1.2"/>
<line x1="408.8" y1="22.50" x2="425.3" y2="22.50" stroke="#444444" stroke-width="1"/>
<text x="0" y="0" font-family="Liberation Sans, sans-serif" font-size="7.800" fill="#111" stroke="#111" stroke-width="0.150" transform="translate(428.235,25.424) scale(0.9400,1.0000)">T=0.2671</text>
<line x1="408.8" y1="31.50" x2="425.3" y2="31.50" stroke="#3c3cff" stroke-width="1"/>
<text x="0" y="0" font-family="Liberation Sans, sans-serif" font-size="7.800" fill="#111" stroke="#111" stroke-width="0.150" transform="translate(428.235,34.574) scale(0.9400,1.0000)">T=0.2599</text>
<line x1="408.8" y1="40.50" x2="425.3" y2="40.50" stroke="#b0b040" stroke-width="1"/>
<text x="0" y="0" font-family="Liberation Sans, sans-serif" font-size="7.800" fill="#111" stroke="#111" stroke-width="0.150" transform="translate(428.235,43.724) scale(0.9400,1.0000)">T=0.2527</text>
<line x1="408.8" y1="49.60" x2="425.3" y2="49.60" stroke="#ff3030" stroke-width="1"/>
<text x="0" y="0" font-family="Liberation Sans, sans-serif" font-size="7.800" fill="#111" stroke="#111" stroke-width="0.150" transform="translate(428.235,52.874) scale(0.9400,1.0000)">T=0.2434</text>
<line x1="408.8" y1="58.80" x2="425.3" y2="58.80" stroke="#209020" stroke-width="1"/>
<text x="0" y="0" font-family="Liberation Sans, sans-serif" font-size="7.800" fill="#111" stroke="#111" stroke-width="0.150" transform="translate(428.235,62.024) scale(0.9400,1.0000)">T=0.2288</text>
<line x1="408.8" y1="67.80" x2="425.3" y2="67.80" stroke="#5050e0" stroke-width="1"/>
<text x="0" y="0" font-family="Liberation Sans, sans-serif" font-size="7.800" fill="#111" stroke="#111" stroke-width="0.150" transform="translate(428.235,71.174) scale(0.9400,1.0000)">T=0.2186</text>
<text x="0" y="0" font-family="Liberation Serif, serif" font-size="100.000" fill="#111" stroke="#111" stroke-width="0.683" transform="translate(64.371,38.500) scale(0.1319,0.2196)">A</text>
<text x="0" y="0" font-family="Liberation Serif, serif" font-size="100.000" fill="#111" stroke="#111" stroke-width="0.705" transform="translate(129.260,91.838) scale(0.1527,0.2129)">B</text>
<text x="0" y="0" font-family="Liberation Serif, serif" font-size="100.000" fill="#111" stroke="#111" stroke-width="0.646" transform="translate(252.810,83.073) scale(0.1682,0.2322)">C</text>
<text x="0" y="0" font-family="Liberation Sans, sans-serif" font-size="100.000" fill="#111" stroke="#111" stroke-width="1.316" transform="translate(38.581,16.140) scale(0.1140,0.1137)">q=0.07057</text>
<text x="0" y="0" font-family="Liberation Serif, serif" font-size="100.000" fill="#111" stroke="#111" stroke-width="1.165" transform="translate(38.416,30.787) scale(0.1288,0.1157)">δ</text>
<text x="0" y="0" font-family="Liberation Sans, sans-serif" font-size="100.000" fill="#111" stroke="#111" stroke-width="1.367" transform="translate(44.379,30.800) scale(0.0964,0.1097)">=1</text>
<text x="0" y="0" font-family="Liberation Sans, sans-serif" font-size="100.000" fill="#111" stroke="#111" stroke-width="1.422" transform="translate(409.357,84.753) scale(0.1055,0.0938)">q=1.7068</text>
<text x="0" y="0" font-family="Liberation Serif, serif" font-size="100.000" fill="#111" stroke="#111" stroke-width="1.068" transform="translate(163.558,236.874) scale(0.1404,0.1289)">ε</text>
<text x="0" y="0" font-family="Liberation Serif, serif" font-size="100.000" font-weight="bold" fill="#111" stroke="#111" stroke-width="1.031" transform="translate(534.704,234.858) scale(0.1450,0.1455)">ε</text>
<text x="0" y="0" font-family="Liberation Sans, sans-serif" font-size="100.000" fill="#111" stroke="#111" stroke-width="1.180" transform="translate(11.876,121.282) rotate(-90) scale(0.1173,0.1271)">S</text>
<text x="0" y="0" font-family="Liberation Sans, sans-serif" font-size="100.000" fill="#111" stroke="#111" stroke-width="1.011" transform="translate(389.505,126.992) rotate(-90) scale(0.1303,0.1483)">S</text>
</svg></body></html>
